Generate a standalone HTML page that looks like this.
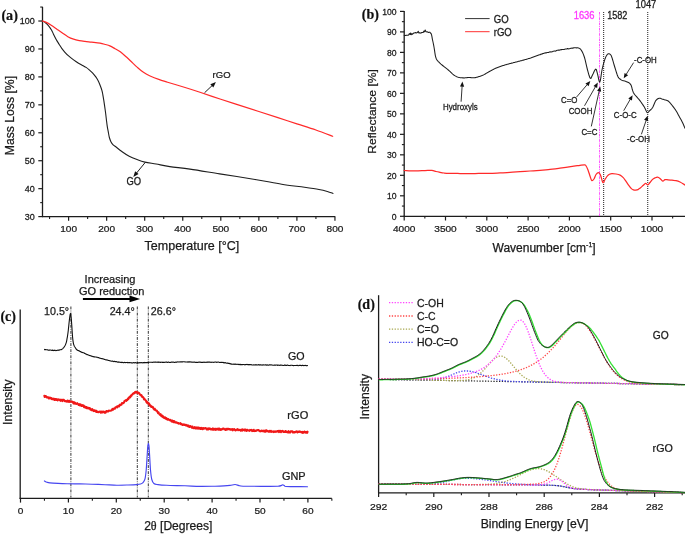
<!DOCTYPE html>
<html><head><meta charset="utf-8"><style>
html,body{margin:0;padding:0;background:#fff;width:685px;height:535px;overflow:hidden}
svg{display:block;filter:blur(0.3px)}
text{font-family:"Liberation Sans",sans-serif}
</style></head><body>
<svg width="685" height="535" viewBox="0 0 685 535">
<rect width="685" height="535" fill="#fff"/>
<line x1="42.5" y1="6.8" x2="42.5" y2="217.1" stroke="#1c1c1c" stroke-width="1.3" />
<line x1="41.9" y1="216.6" x2="335.2" y2="216.6" stroke="#1c1c1c" stroke-width="1.3" />
<line x1="38.3" y1="216.6" x2="42.5" y2="216.6" stroke="#1c1c1c" stroke-width="1.2" />
<text x="0" y="0" transform="translate(34.8 219.8) scale(1 1.05)" text-anchor="end" fill="#1a1a1a" stroke="#1a1a1a" stroke-width="0.25" style="font-family:'Liberation Sans';font-size:9px;font-weight:normal">30</text>
<line x1="38.3" y1="188.66" x2="42.5" y2="188.66" stroke="#1c1c1c" stroke-width="1.2" />
<text x="0" y="0" transform="translate(34.8 191.86) scale(1 1.05)" text-anchor="end" fill="#1a1a1a" stroke="#1a1a1a" stroke-width="0.25" style="font-family:'Liberation Sans';font-size:9px;font-weight:normal">40</text>
<line x1="38.3" y1="160.72" x2="42.5" y2="160.72" stroke="#1c1c1c" stroke-width="1.2" />
<text x="0" y="0" transform="translate(34.8 163.92) scale(1 1.05)" text-anchor="end" fill="#1a1a1a" stroke="#1a1a1a" stroke-width="0.25" style="font-family:'Liberation Sans';font-size:9px;font-weight:normal">50</text>
<line x1="38.3" y1="132.78" x2="42.5" y2="132.78" stroke="#1c1c1c" stroke-width="1.2" />
<text x="0" y="0" transform="translate(34.8 135.98) scale(1 1.05)" text-anchor="end" fill="#1a1a1a" stroke="#1a1a1a" stroke-width="0.25" style="font-family:'Liberation Sans';font-size:9px;font-weight:normal">60</text>
<line x1="38.3" y1="104.84" x2="42.5" y2="104.84" stroke="#1c1c1c" stroke-width="1.2" />
<text x="0" y="0" transform="translate(34.8 108.04) scale(1 1.05)" text-anchor="end" fill="#1a1a1a" stroke="#1a1a1a" stroke-width="0.25" style="font-family:'Liberation Sans';font-size:9px;font-weight:normal">70</text>
<line x1="38.3" y1="76.9" x2="42.5" y2="76.9" stroke="#1c1c1c" stroke-width="1.2" />
<text x="0" y="0" transform="translate(34.8 80.1) scale(1 1.05)" text-anchor="end" fill="#1a1a1a" stroke="#1a1a1a" stroke-width="0.25" style="font-family:'Liberation Sans';font-size:9px;font-weight:normal">80</text>
<line x1="38.3" y1="48.96" x2="42.5" y2="48.96" stroke="#1c1c1c" stroke-width="1.2" />
<text x="0" y="0" transform="translate(34.8 52.16) scale(1 1.05)" text-anchor="end" fill="#1a1a1a" stroke="#1a1a1a" stroke-width="0.25" style="font-family:'Liberation Sans';font-size:9px;font-weight:normal">90</text>
<line x1="38.3" y1="21.02" x2="42.5" y2="21.02" stroke="#1c1c1c" stroke-width="1.2" />
<text x="0" y="0" transform="translate(34.8 24.22) scale(1 1.05)" text-anchor="end" fill="#1a1a1a" stroke="#1a1a1a" stroke-width="0.25" style="font-family:'Liberation Sans';font-size:9px;font-weight:normal">100</text>
<line x1="40.2" y1="202.63" x2="42.5" y2="202.63" stroke="#1c1c1c" stroke-width="1.1" />
<line x1="40.2" y1="174.69" x2="42.5" y2="174.69" stroke="#1c1c1c" stroke-width="1.1" />
<line x1="40.2" y1="146.75" x2="42.5" y2="146.75" stroke="#1c1c1c" stroke-width="1.1" />
<line x1="40.2" y1="118.81" x2="42.5" y2="118.81" stroke="#1c1c1c" stroke-width="1.1" />
<line x1="40.2" y1="90.87" x2="42.5" y2="90.87" stroke="#1c1c1c" stroke-width="1.1" />
<line x1="40.2" y1="62.93" x2="42.5" y2="62.93" stroke="#1c1c1c" stroke-width="1.1" />
<line x1="40.2" y1="34.99" x2="42.5" y2="34.99" stroke="#1c1c1c" stroke-width="1.1" />
<line x1="40.2" y1="7.05" x2="42.5" y2="7.05" stroke="#1c1c1c" stroke-width="1.1" />
<line x1="68.6" y1="216.6" x2="68.6" y2="220.8" stroke="#1c1c1c" stroke-width="1.2" />
<text x="0" y="0" transform="translate(68.6 232) scale(1 0.97)" text-anchor="middle" fill="#1a1a1a" stroke="#1a1a1a" stroke-width="0.25" style="font-family:'Liberation Sans';font-size:10.1px;font-weight:normal">100</text>
<line x1="106.65" y1="216.6" x2="106.65" y2="220.8" stroke="#1c1c1c" stroke-width="1.2" />
<text x="0" y="0" transform="translate(106.65 232) scale(1 0.97)" text-anchor="middle" fill="#1a1a1a" stroke="#1a1a1a" stroke-width="0.25" style="font-family:'Liberation Sans';font-size:10.1px;font-weight:normal">200</text>
<line x1="144.7" y1="216.6" x2="144.7" y2="220.8" stroke="#1c1c1c" stroke-width="1.2" />
<text x="0" y="0" transform="translate(144.7 232) scale(1 0.97)" text-anchor="middle" fill="#1a1a1a" stroke="#1a1a1a" stroke-width="0.25" style="font-family:'Liberation Sans';font-size:10.1px;font-weight:normal">300</text>
<line x1="182.75" y1="216.6" x2="182.75" y2="220.8" stroke="#1c1c1c" stroke-width="1.2" />
<text x="0" y="0" transform="translate(182.75 232) scale(1 0.97)" text-anchor="middle" fill="#1a1a1a" stroke="#1a1a1a" stroke-width="0.25" style="font-family:'Liberation Sans';font-size:10.1px;font-weight:normal">400</text>
<line x1="220.8" y1="216.6" x2="220.8" y2="220.8" stroke="#1c1c1c" stroke-width="1.2" />
<text x="0" y="0" transform="translate(220.8 232) scale(1 0.97)" text-anchor="middle" fill="#1a1a1a" stroke="#1a1a1a" stroke-width="0.25" style="font-family:'Liberation Sans';font-size:10.1px;font-weight:normal">500</text>
<line x1="258.85" y1="216.6" x2="258.85" y2="220.8" stroke="#1c1c1c" stroke-width="1.2" />
<text x="0" y="0" transform="translate(258.85 232) scale(1 0.97)" text-anchor="middle" fill="#1a1a1a" stroke="#1a1a1a" stroke-width="0.25" style="font-family:'Liberation Sans';font-size:10.1px;font-weight:normal">600</text>
<line x1="296.9" y1="216.6" x2="296.9" y2="220.8" stroke="#1c1c1c" stroke-width="1.2" />
<text x="0" y="0" transform="translate(296.9 232) scale(1 0.97)" text-anchor="middle" fill="#1a1a1a" stroke="#1a1a1a" stroke-width="0.25" style="font-family:'Liberation Sans';font-size:10.1px;font-weight:normal">700</text>
<line x1="334.95" y1="216.6" x2="334.95" y2="220.8" stroke="#1c1c1c" stroke-width="1.2" />
<text x="0" y="0" transform="translate(334.95 232) scale(1 0.97)" text-anchor="middle" fill="#1a1a1a" stroke="#1a1a1a" stroke-width="0.25" style="font-family:'Liberation Sans';font-size:10.1px;font-weight:normal">800</text>
<line x1="49.57" y1="216.6" x2="49.57" y2="218.9" stroke="#1c1c1c" stroke-width="1.1" />
<line x1="87.62" y1="216.6" x2="87.62" y2="218.9" stroke="#1c1c1c" stroke-width="1.1" />
<line x1="125.67" y1="216.6" x2="125.67" y2="218.9" stroke="#1c1c1c" stroke-width="1.1" />
<line x1="163.72" y1="216.6" x2="163.72" y2="218.9" stroke="#1c1c1c" stroke-width="1.1" />
<line x1="201.78" y1="216.6" x2="201.78" y2="218.9" stroke="#1c1c1c" stroke-width="1.1" />
<line x1="239.82" y1="216.6" x2="239.82" y2="218.9" stroke="#1c1c1c" stroke-width="1.1" />
<line x1="277.88" y1="216.6" x2="277.88" y2="218.9" stroke="#1c1c1c" stroke-width="1.1" />
<line x1="315.93" y1="216.6" x2="315.93" y2="218.9" stroke="#1c1c1c" stroke-width="1.1" />
<text x="191.9" y="250.4" text-anchor="middle" fill="#1a1a1a" stroke="#1a1a1a" stroke-width="0.25" style="font-family:'Liberation Sans';font-size:12.5px;font-weight:normal" >Temperature [°C]</text>
<text x="13.6" y="115.6" text-anchor="middle" fill="#1a1a1a" stroke="#1a1a1a" stroke-width="0.25" style="font-family:'Liberation Sans';font-size:12.2px;font-weight:normal" transform="rotate(-90 13.6 115.6)">Mass Loss [%]</text>
<text x="1.4" y="19.8" text-anchor="start" fill="#111" stroke="#111" stroke-width="0.2" style="font-family:'Liberation Serif';font-size:14.2px;font-weight:bold" >(a)</text>
<path d="M42.35,21.02C42.92,21.35 44.66,22.09 45.77,22.98C46.88,23.86 48.05,25.16 49,26.33C49.96,27.49 50.73,28.66 51.48,29.96C52.23,31.26 52.73,32.62 53.49,34.15C54.26,35.69 55.11,37.5 56.04,39.18C56.98,40.86 58.14,42.67 59.09,44.21C60.04,45.75 60.81,47.1 61.75,48.4C62.69,49.71 63.58,50.78 64.72,52.03C65.86,53.29 67.12,54.64 68.6,55.94C70.08,57.25 72,58.69 73.58,59.86C75.17,61.02 76.61,62 78.11,62.93C79.62,63.86 81.27,64.7 82.6,65.44C83.93,66.19 84.99,66.66 86.1,67.4C87.22,68.15 88.41,69.17 89.3,69.91C90.19,70.66 90.68,71.13 91.43,71.87C92.18,72.62 93.03,73.5 93.79,74.39C94.55,75.27 95.31,76.2 96,77.18C96.68,78.16 97.26,79.04 97.9,80.25C98.53,81.46 99.14,82.77 99.8,84.44C100.47,86.12 101.39,88.59 101.89,90.31C102.4,92.03 102.53,93.11 102.84,94.78C103.16,96.46 103.48,98.37 103.8,100.37C104.11,102.37 104.43,104.56 104.75,106.8C105.06,109.03 105.41,111.55 105.7,113.78C105.98,116.02 106.21,118.16 106.46,120.21C106.71,122.26 106.92,124.12 107.22,126.07C107.53,128.03 107.94,130.08 108.29,131.94C108.63,133.8 108.88,135.62 109.31,137.25C109.75,138.88 110.28,140.46 110.91,141.72C111.55,142.98 112.26,143.91 113.12,144.79C113.98,145.68 114.63,145.91 116.09,147.03C117.54,148.15 119.68,149.96 121.87,151.5C124.06,153.04 126.68,154.9 129.21,156.25C131.75,157.6 134.48,158.62 137.09,159.6C139.7,160.58 141.72,161.37 144.89,162.12C148.06,162.86 151.96,163.33 156.12,164.07C160.27,164.82 164.17,165.75 169.81,166.59C175.46,167.43 181.67,167.89 189.98,169.1C198.29,170.31 208.56,172.08 219.66,173.85C230.76,175.62 246.23,178 256.57,179.72C266.9,181.44 273.69,182.93 281.68,184.19C289.67,185.45 298.3,186.38 304.51,187.26C310.72,188.15 315.16,188.8 318.97,189.5C322.77,190.2 324.99,190.8 327.34,191.45C329.69,192.11 332.1,193.08 333.05,193.41" fill="none" stroke="#1e1e1e" stroke-width="1.1" stroke-linejoin="round" stroke-linecap="round" />
<path d="M42.35,21.02C42.92,21.21 44.29,21.44 45.77,22.14C47.25,22.84 49.31,24 51.21,25.21C53.11,26.42 55.32,28.1 57.18,29.4C59.05,30.71 60.62,31.82 62.4,33.03C64.17,34.24 65.97,35.64 67.84,36.67C69.7,37.69 71.68,38.53 73.58,39.18C75.49,39.83 77.37,40.21 79.25,40.58C81.14,40.95 82.86,41.16 84.89,41.42C86.91,41.67 88.91,41.84 91.43,42.11C93.95,42.39 97.64,42.7 99.99,43.09C102.34,43.49 103.87,44.02 105.51,44.49C107.14,44.96 108.22,45.19 109.81,45.89C111.39,46.59 113.27,47.7 115.02,48.68C116.77,49.66 118.41,50.36 120.31,51.75C122.21,53.15 124.39,55.2 126.44,57.06C128.48,58.93 130.82,61.25 132.6,62.93C134.38,64.61 135.64,65.82 137.09,67.12C138.54,68.42 139.85,69.64 141.31,70.75C142.77,71.87 144.38,72.94 145.84,73.83C147.31,74.71 147.95,75.13 150.1,76.06C152.26,76.99 155.86,78.39 158.78,79.41C161.7,80.44 163.22,80.86 167.61,82.21C171.99,83.56 179.71,85.84 185.11,87.52C190.51,89.19 194.04,90.31 199.99,92.27C205.94,94.22 214.16,97.06 220.8,99.25C227.44,101.44 233.48,103.35 239.82,105.4C246.17,107.45 252.51,109.5 258.85,111.55C265.19,113.59 271.53,115.64 277.88,117.69C284.22,119.74 290.56,121.79 296.9,123.84C303.24,125.89 309.96,127.91 315.93,129.99C321.89,132.06 329.88,135.22 332.67,136.27" fill="none" stroke="#ff2a2a" stroke-width="1.2" stroke-linejoin="round" stroke-linecap="round" />
<line x1="204.5" y1="92.8" x2="212.2" y2="85.51" stroke="#111" stroke-width="0.95" />
<path d="M215.9,82 L213.35,87.45 L210.32,84.25 Z" fill="#111"/>
<text x="0" y="0" transform="translate(212.6 78.3) scale(1 0.95)" text-anchor="start" fill="#1a1a1a" stroke="#1a1a1a" stroke-width="0.25" style="font-family:'Liberation Sans';font-size:9.5px;font-weight:normal">rGO</text>
<line x1="145.1" y1="162.6" x2="136.53" y2="173.06" stroke="#111" stroke-width="0.95" />
<path d="M133.3,177 L135.15,171.27 L138.55,174.06 Z" fill="#111"/>
<text x="0" y="0" transform="translate(126.4 185.3) scale(1 1.08)" text-anchor="start" fill="#1a1a1a" stroke="#1a1a1a" stroke-width="0.25" style="font-family:'Liberation Sans';font-size:9.4px;font-weight:normal">GO</text>
<line x1="404.2" y1="10.9" x2="404.2" y2="216.8" stroke="#1c1c1c" stroke-width="1.3" />
<line x1="403.6" y1="216.3" x2="685" y2="216.3" stroke="#1c1c1c" stroke-width="1.3" />
<line x1="400" y1="216.3" x2="404.2" y2="216.3" stroke="#1c1c1c" stroke-width="1.2" />
<text x="0" y="0" transform="translate(396.6 219.6) scale(1 1.12)" text-anchor="end" fill="#1a1a1a" stroke="#1a1a1a" stroke-width="0.25" style="font-family:'Liberation Sans';font-size:8.6px;font-weight:normal">0</text>
<line x1="400" y1="195.81" x2="404.2" y2="195.81" stroke="#1c1c1c" stroke-width="1.2" />
<text x="0" y="0" transform="translate(396.6 199.11) scale(1 1.12)" text-anchor="end" fill="#1a1a1a" stroke="#1a1a1a" stroke-width="0.25" style="font-family:'Liberation Sans';font-size:8.6px;font-weight:normal">10</text>
<line x1="400" y1="175.32" x2="404.2" y2="175.32" stroke="#1c1c1c" stroke-width="1.2" />
<text x="0" y="0" transform="translate(396.6 178.62) scale(1 1.12)" text-anchor="end" fill="#1a1a1a" stroke="#1a1a1a" stroke-width="0.25" style="font-family:'Liberation Sans';font-size:8.6px;font-weight:normal">20</text>
<line x1="400" y1="154.83" x2="404.2" y2="154.83" stroke="#1c1c1c" stroke-width="1.2" />
<text x="0" y="0" transform="translate(396.6 158.13) scale(1 1.12)" text-anchor="end" fill="#1a1a1a" stroke="#1a1a1a" stroke-width="0.25" style="font-family:'Liberation Sans';font-size:8.6px;font-weight:normal">30</text>
<line x1="400" y1="134.34" x2="404.2" y2="134.34" stroke="#1c1c1c" stroke-width="1.2" />
<text x="0" y="0" transform="translate(396.6 137.64) scale(1 1.12)" text-anchor="end" fill="#1a1a1a" stroke="#1a1a1a" stroke-width="0.25" style="font-family:'Liberation Sans';font-size:8.6px;font-weight:normal">40</text>
<line x1="400" y1="113.85" x2="404.2" y2="113.85" stroke="#1c1c1c" stroke-width="1.2" />
<text x="0" y="0" transform="translate(396.6 117.15) scale(1 1.12)" text-anchor="end" fill="#1a1a1a" stroke="#1a1a1a" stroke-width="0.25" style="font-family:'Liberation Sans';font-size:8.6px;font-weight:normal">50</text>
<line x1="400" y1="93.36" x2="404.2" y2="93.36" stroke="#1c1c1c" stroke-width="1.2" />
<text x="0" y="0" transform="translate(396.6 96.66) scale(1 1.12)" text-anchor="end" fill="#1a1a1a" stroke="#1a1a1a" stroke-width="0.25" style="font-family:'Liberation Sans';font-size:8.6px;font-weight:normal">60</text>
<line x1="400" y1="72.87" x2="404.2" y2="72.87" stroke="#1c1c1c" stroke-width="1.2" />
<text x="0" y="0" transform="translate(396.6 76.17) scale(1 1.12)" text-anchor="end" fill="#1a1a1a" stroke="#1a1a1a" stroke-width="0.25" style="font-family:'Liberation Sans';font-size:8.6px;font-weight:normal">70</text>
<line x1="400" y1="52.38" x2="404.2" y2="52.38" stroke="#1c1c1c" stroke-width="1.2" />
<text x="0" y="0" transform="translate(396.6 55.68) scale(1 1.12)" text-anchor="end" fill="#1a1a1a" stroke="#1a1a1a" stroke-width="0.25" style="font-family:'Liberation Sans';font-size:8.6px;font-weight:normal">80</text>
<line x1="400" y1="31.89" x2="404.2" y2="31.89" stroke="#1c1c1c" stroke-width="1.2" />
<text x="0" y="0" transform="translate(396.6 35.19) scale(1 1.12)" text-anchor="end" fill="#1a1a1a" stroke="#1a1a1a" stroke-width="0.25" style="font-family:'Liberation Sans';font-size:8.6px;font-weight:normal">90</text>
<line x1="400" y1="11.4" x2="404.2" y2="11.4" stroke="#1c1c1c" stroke-width="1.2" />
<text x="0" y="0" transform="translate(396.6 14.7) scale(1 1.12)" text-anchor="end" fill="#1a1a1a" stroke="#1a1a1a" stroke-width="0.25" style="font-family:'Liberation Sans';font-size:8.6px;font-weight:normal">100</text>
<line x1="401.9" y1="206.06" x2="404.2" y2="206.06" stroke="#1c1c1c" stroke-width="1.1" />
<line x1="401.9" y1="185.56" x2="404.2" y2="185.56" stroke="#1c1c1c" stroke-width="1.1" />
<line x1="401.9" y1="165.08" x2="404.2" y2="165.08" stroke="#1c1c1c" stroke-width="1.1" />
<line x1="401.9" y1="144.59" x2="404.2" y2="144.59" stroke="#1c1c1c" stroke-width="1.1" />
<line x1="401.9" y1="124.1" x2="404.2" y2="124.1" stroke="#1c1c1c" stroke-width="1.1" />
<line x1="401.9" y1="103.61" x2="404.2" y2="103.61" stroke="#1c1c1c" stroke-width="1.1" />
<line x1="401.9" y1="83.12" x2="404.2" y2="83.12" stroke="#1c1c1c" stroke-width="1.1" />
<line x1="401.9" y1="62.63" x2="404.2" y2="62.63" stroke="#1c1c1c" stroke-width="1.1" />
<line x1="401.9" y1="42.14" x2="404.2" y2="42.14" stroke="#1c1c1c" stroke-width="1.1" />
<line x1="401.9" y1="21.65" x2="404.2" y2="21.65" stroke="#1c1c1c" stroke-width="1.1" />
<line x1="404.2" y1="216.3" x2="404.2" y2="220.5" stroke="#1c1c1c" stroke-width="1.2" />
<text x="0" y="0" transform="translate(404.2 231.5) scale(1 0.97)" text-anchor="middle" fill="#1a1a1a" stroke="#1a1a1a" stroke-width="0.25" style="font-family:'Liberation Sans';font-size:10.1px;font-weight:normal">4000</text>
<line x1="445.5" y1="216.3" x2="445.5" y2="220.5" stroke="#1c1c1c" stroke-width="1.2" />
<text x="0" y="0" transform="translate(445.5 231.5) scale(1 0.97)" text-anchor="middle" fill="#1a1a1a" stroke="#1a1a1a" stroke-width="0.25" style="font-family:'Liberation Sans';font-size:10.1px;font-weight:normal">3500</text>
<line x1="486.8" y1="216.3" x2="486.8" y2="220.5" stroke="#1c1c1c" stroke-width="1.2" />
<text x="0" y="0" transform="translate(486.8 231.5) scale(1 0.97)" text-anchor="middle" fill="#1a1a1a" stroke="#1a1a1a" stroke-width="0.25" style="font-family:'Liberation Sans';font-size:10.1px;font-weight:normal">3000</text>
<line x1="528.1" y1="216.3" x2="528.1" y2="220.5" stroke="#1c1c1c" stroke-width="1.2" />
<text x="0" y="0" transform="translate(528.1 231.5) scale(1 0.97)" text-anchor="middle" fill="#1a1a1a" stroke="#1a1a1a" stroke-width="0.25" style="font-family:'Liberation Sans';font-size:10.1px;font-weight:normal">2500</text>
<line x1="569.4" y1="216.3" x2="569.4" y2="220.5" stroke="#1c1c1c" stroke-width="1.2" />
<text x="0" y="0" transform="translate(569.4 231.5) scale(1 0.97)" text-anchor="middle" fill="#1a1a1a" stroke="#1a1a1a" stroke-width="0.25" style="font-family:'Liberation Sans';font-size:10.1px;font-weight:normal">2000</text>
<line x1="610.7" y1="216.3" x2="610.7" y2="220.5" stroke="#1c1c1c" stroke-width="1.2" />
<text x="0" y="0" transform="translate(610.7 231.5) scale(1 0.97)" text-anchor="middle" fill="#1a1a1a" stroke="#1a1a1a" stroke-width="0.25" style="font-family:'Liberation Sans';font-size:10.1px;font-weight:normal">1500</text>
<line x1="652" y1="216.3" x2="652" y2="220.5" stroke="#1c1c1c" stroke-width="1.2" />
<text x="0" y="0" transform="translate(652 231.5) scale(1 0.97)" text-anchor="middle" fill="#1a1a1a" stroke="#1a1a1a" stroke-width="0.25" style="font-family:'Liberation Sans';font-size:10.1px;font-weight:normal">1000</text>
<line x1="424.85" y1="216.3" x2="424.85" y2="218.6" stroke="#1c1c1c" stroke-width="1.1" />
<line x1="466.15" y1="216.3" x2="466.15" y2="218.6" stroke="#1c1c1c" stroke-width="1.1" />
<line x1="507.45" y1="216.3" x2="507.45" y2="218.6" stroke="#1c1c1c" stroke-width="1.1" />
<line x1="548.75" y1="216.3" x2="548.75" y2="218.6" stroke="#1c1c1c" stroke-width="1.1" />
<line x1="590.05" y1="216.3" x2="590.05" y2="218.6" stroke="#1c1c1c" stroke-width="1.1" />
<line x1="631.35" y1="216.3" x2="631.35" y2="218.6" stroke="#1c1c1c" stroke-width="1.1" />
<line x1="672.65" y1="216.3" x2="672.65" y2="218.6" stroke="#1c1c1c" stroke-width="1.1" />
<text x="492.5" y="251.7" font-size="12.0" fill="#1a1a1a" stroke="#1a1a1a" stroke-width="0.25" font-family="Liberation Sans">Wavenumber [cm<tspan font-size="7" dy="-5.2">-1</tspan><tspan dy="5.2">]</tspan></text>
<text x="0" y="0" transform="translate(376.3 111.4) rotate(-90) scale(1 0.92)" text-anchor="middle" fill="#1a1a1a" stroke="#1a1a1a" stroke-width="0.25" style="font-family:'Liberation Sans';font-size:12.1px">Reflectance [%]</text>
<text x="361.8" y="18.6" text-anchor="start" fill="#111" stroke="#111" stroke-width="0.2" style="font-family:'Liberation Serif';font-size:14px;font-weight:bold" >(b)</text>
<line x1="465.1" y1="18.6" x2="489.6" y2="18.6" stroke="#333" stroke-width="1" />
<text x="0" y="0" transform="translate(493.7 22.8) scale(1 1.08)" text-anchor="start" fill="#1a1a1a" stroke="#1a1a1a" stroke-width="0.25" style="font-family:'Liberation Sans';font-size:9.6px;font-weight:normal">GO</text>
<line x1="465.1" y1="31.7" x2="489.6" y2="31.7" stroke="#ff3030" stroke-width="1" />
<text x="0" y="0" transform="translate(493.7 35.7) scale(1 1.08)" text-anchor="start" fill="#1a1a1a" stroke="#1a1a1a" stroke-width="0.25" style="font-family:'Liberation Sans';font-size:9.6px;font-weight:normal">rGO</text>
<line x1="599.5" y1="12" x2="599.5" y2="216.3" stroke="#ff44ff" stroke-width="0.9" stroke-dasharray="2.6,0.9,0.9,0.9"/>
<line x1="603.6" y1="12" x2="603.6" y2="216.3" stroke="#444" stroke-width="1.2" stroke-dasharray="1,1"/>
<line x1="647.7" y1="12" x2="647.7" y2="216.3" stroke="#444" stroke-width="1.2" stroke-dasharray="1,1"/>
<text x="0" y="0" transform="translate(584.1 18.7) scale(1 1.08)" text-anchor="middle" fill="#ff33ff" stroke="#ff33ff" stroke-width="0.25" style="font-family:'Liberation Sans';font-size:9.4px;font-weight:normal">1636</text>
<text x="0" y="0" transform="translate(617.3 18.7) scale(1 1.1)" text-anchor="middle" fill="#1a1a1a" stroke="#1a1a1a" stroke-width="0.25" style="font-family:'Liberation Sans';font-size:9.1px;font-weight:normal">1582</text>
<text x="0" y="0" transform="translate(645.9 7.9) scale(1 1.08)" text-anchor="middle" fill="#1a1a1a" stroke="#1a1a1a" stroke-width="0.25" style="font-family:'Liberation Sans';font-size:9.4px;font-weight:normal">1047</text>
<path d="M404.2,35.5 L404.63,35.47 L405.25,35.42 L405.97,35.37 L406.72,35.31 L407.42,35.25 L408,35.2 L408.64,34.97 L409.13,33.92 L409.59,33.59 L410.1,34.44 L410.66,33.03 L411.22,34.73 L411.85,33.82 L412.6,34.25 L413.2,33.49 L413.87,32.9 L414.59,32.9 L415.34,32.51 L416.08,33.03 L416.8,32.68 L417.5,32.46 L418.2,31.21 L418.9,32.95 L419.6,32.69 L420.3,32.89 L421,33.19 L421.72,32.48 L422.46,32.48 L423.2,32.37 L423.92,31.08 L424.59,31.81 L425.2,29.92 L425.96,31.64 L426.6,31.87 L427.19,31.89 L427.8,31.98 L428.49,32.44 L429.19,32.3 L429.86,32.15 L430.4,33.05 L431.06,33.52 L431.5,34.6 L431.94,36.71 L432.4,39.3 L433,42.01 L433.6,44.8 L434.07,47.52 L434.5,50.2 L434.9,52.89 L435.3,55.3 L435.73,57.1 L436.2,58.5 L436.61,59.45 L437.3,60.4 L437.77,60.95 L438.32,61.56 L438.96,62.21 L439.65,62.9 L440.4,63.6 L440.98,64.12 L441.62,64.66 L442.3,65.22 L442.99,65.78 L443.69,66.34 L444.36,66.88 L445,67.4 L445.69,67.95 L446.34,68.46 L446.97,68.95 L447.61,69.45 L448.28,69.99 L449,70.6 L449.59,71.12 L450.2,71.71 L450.84,72.33 L451.49,72.96 L452.15,73.59 L452.81,74.19 L453.46,74.73 L454.1,75.2 L454.81,75.66 L455.51,76.05 L456.21,76.4 L456.9,76.7 L457.6,76.97 L458.3,77.2 L459,77.4 L459.62,77.55 L460.24,77.67 L460.87,77.75 L461.49,77.81 L462.12,77.85 L462.75,77.88 L463.37,77.89 L464,77.9 L464.62,77.89 L465.25,77.85 L465.88,77.79 L466.5,77.71 L467.12,77.64 L467.75,77.57 L468.38,77.52 L469,77.5 L469.62,77.51 L470.25,77.56 L470.88,77.63 L471.5,77.7 L472.12,77.77 L472.75,77.81 L473.38,77.83 L474,77.8 L474.62,77.73 L475.25,77.62 L475.88,77.5 L476.5,77.34 L477.12,77.17 L477.75,76.99 L478.38,76.8 L479,76.6 L479.62,76.4 L480.23,76.19 L480.83,75.97 L481.44,75.74 L482.05,75.49 L482.68,75.22 L483.33,74.92 L484,74.6 L484.62,74.28 L485.26,73.93 L485.91,73.56 L486.58,73.17 L487.26,72.77 L487.94,72.37 L488.63,71.97 L489.31,71.58 L490,71.2 L490.62,70.87 L491.23,70.53 L491.86,70.2 L492.48,69.87 L493.11,69.54 L493.74,69.21 L494.37,68.89 L495.01,68.59 L495.65,68.29 L496.3,68 L496.95,67.73 L497.61,67.46 L498.27,67.21 L498.94,66.96 L499.61,66.72 L500.28,66.49 L500.96,66.27 L501.63,66.04 L502.32,65.82 L503,65.6 L503.61,65.41 L504.21,65.22 L504.81,65.04 L505.4,64.87 L505.99,64.7 L506.6,64.53 L507.22,64.35 L507.87,64.18 L508.54,63.99 L509.25,63.8 L510,63.6 L510.58,63.44 L511.18,63.28 L511.81,63.12 L512.45,62.95 L513.11,62.79 L513.78,62.61 L514.47,62.44 L515.16,62.26 L515.86,62.08 L516.56,61.9 L517.26,61.72 L517.95,61.54 L518.64,61.36 L519.33,61.18 L520,61 L520.67,60.82 L521.33,60.64 L521.99,60.47 L522.65,60.29 L523.31,60.12 L523.97,59.94 L524.63,59.76 L525.29,59.58 L525.95,59.4 L526.61,59.21 L527.28,59.02 L527.96,58.83 L528.63,58.62 L529.31,58.42 L530,58.2 L530.65,57.99 L531.31,57.76 L531.98,57.53 L532.66,57.29 L533.34,57.04 L534.02,56.79 L534.71,56.53 L535.39,56.28 L536.08,56.02 L536.76,55.77 L537.44,55.52 L538.11,55.28 L538.77,55.04 L539.42,54.81 L540.07,54.79 L540.7,54.27 L541.41,54.12 L542.1,54.08 L542.77,53.5 L543.44,53.58 L544.1,53.22 L544.75,53.02 L545.39,52.82 L546.04,53.09 L546.68,52.55 L547.33,52.46 L547.99,52.4 L548.65,52.53 L549.32,51.9 L550,51.97 L550.64,51.88 L551.29,51.94 L551.93,51.76 L552.58,51.65 L553.23,51.16 L553.89,51.11 L554.54,50.94 L555.21,51.12 L555.87,51.03 L556.54,50.42 L557.22,50.31 L557.91,50.21 L558.6,50.09 L559.29,50.11 L560,50.05 L560.64,49.75 L561.29,49.48 L561.97,49.61 L562.65,49.47 L563.35,49.47 L564.05,49.59 L564.76,49.31 L565.47,49.1 L566.17,49.05 L566.87,48.98 L567.55,48.5 L568.23,48.91 L568.89,48.75 L569.53,48.73 L570.15,48.6 L570.74,48.29 L571.3,48.24 L572.13,47.98 L572.93,48.23 L573.7,47.83 L574.43,47.78 L575.14,47.83 L575.8,47.78 L576.44,47.89 L577.03,47.74 L577.59,47.74 L578.12,47.9 L578.6,47.96 L579.46,48.37 L580.07,48.76 L580.54,49.2 L580.98,49.79 L581.5,50.6 L582.1,51.61 L582.7,52.79 L583.3,54.16 L583.9,55.72 L584.5,57.5 L585.09,59.62 L585.67,62.09 L586.24,64.69 L586.82,67.22 L587.4,69.5 L587.99,71.66 L588.59,73.83 L589.19,75.8 L589.76,77.37 L590.3,78.3 L590.88,78.39 L591.38,77.57 L591.9,76.29 L592.5,75 L593.1,73.82 L593.78,72.32 L594.47,70.82 L595.13,69.64 L595.7,69.1 L596.39,69.74 L596.91,71.57 L597.5,73.8 L598.04,76.13 L598.62,79.09 L599.21,81.5 L599.8,82.2 L600.36,80.46 L600.91,77.05 L601.48,73.04 L602.1,69.5 L602.67,67.11 L603.29,64.73 L603.92,62.45 L604.54,60.41 L605.1,58.7 L605.72,57.11 L606.28,55.98 L606.8,55.16 L607.3,54.5 L607.9,53.9 L608.44,53.69 L609,53.7 L609.61,53.93 L610.24,54.39 L610.8,55 L611.33,55.82 L612,57.7 L612.47,59.22 L613.04,61.16 L613.66,63.31 L614.29,65.49 L614.9,67.5 L615.49,69.42 L616.09,71.38 L616.69,73.27 L617.26,74.95 L617.8,76.3 L618.39,77.43 L618.92,78.11 L619.45,78.55 L620,79 L620.62,79.49 L621.26,79.89 L621.9,80.23 L622.5,80.5 L623.18,80.69 L623.8,80.76 L624.5,80.9 L625.14,81.12 L625.83,81.4 L626.54,81.7 L627.2,82 L627.82,82.27 L628.41,82.53 L628.98,82.82 L629.5,83.2 L630.14,83.84 L630.71,84.6 L631.2,85.5 L631.74,87.19 L632.2,89 L632.68,90.68 L633.2,92.2 L633.81,93.33 L634.6,94.4 L635.12,95.04 L635.71,95.73 L636.34,96.44 L637,97.2 L637.56,97.84 L638.15,98.52 L638.75,99.21 L639.34,99.91 L639.9,100.6 L640.54,101.44 L641.13,102.28 L641.71,103.13 L642.3,104 L642.93,104.92 L643.57,105.89 L644.18,106.83 L644.7,107.7 L645.42,109.2 L646,110.5 L646.61,111.75 L647.2,112.6 L647.76,112.61 L648.3,112.2 L648.82,111.61 L649.4,110.9 L649.9,110.46 L650.45,110.01 L651,109.5 L651.53,108.93 L652.07,108.3 L652.6,107.5 L653.13,106.44 L653.67,105.21 L654.2,104 L654.72,102.8 L655.24,101.61 L655.8,100.6 L656.44,99.84 L657.12,99.25 L657.8,98.8 L658.46,98.46 L659.12,98.25 L659.8,98.2 L660.33,98.3 L660.87,98.51 L661.42,98.77 L662,99 L662.57,99.18 L663.14,99.36 L663.76,99.55 L664.5,99.8 L665.07,99.96 L665.69,100.1 L666.36,100.25 L667.05,100.47 L667.77,100.8 L668.5,101.3 L669.16,101.89 L669.86,102.63 L670.59,103.47 L671.31,104.35 L672.02,105.25 L672.69,106.12 L673.3,106.9 L674.04,107.87 L674.7,108.76 L675.3,109.63 L675.89,110.53 L676.5,111.5 L677.13,112.58 L677.76,113.72 L678.38,114.9 L678.99,116.07 L679.6,117.2 L680.2,118.28 L680.79,119.32 L681.38,120.36 L681.95,121.41 L682.5,122.5 L683.21,124.05 L683.93,125.73 L684.56,127.25 L685,128.3" fill="none" stroke="#1e1e1e" stroke-width="1.05" stroke-linejoin="round" stroke-linecap="round" />
<path d="M404.2,170.5C406,170.57 411.53,170.88 415,170.9C418.47,170.92 422.2,170.68 425,170.6C427.8,170.52 429.97,170.25 431.8,170.4C433.63,170.55 434.75,171.2 436,171.5C437.25,171.8 437.97,171.95 439.3,172.2C440.63,172.45 442.35,172.8 444,173C445.65,173.2 446.53,173.32 449.2,173.4C451.87,173.48 455.7,173.48 460,173.5C464.3,173.52 470.17,173.52 475,173.5C479.83,173.48 484.83,173.5 489,173.4C493.17,173.3 496.5,173.07 500,172.9C503.5,172.73 506.67,172.6 510,172.4C513.33,172.2 516.67,171.93 520,171.7C523.33,171.47 526.67,171.23 530,171C533.33,170.77 536.95,170.52 540,170.3C543.05,170.08 544.97,170.05 548.3,169.7C551.63,169.35 555.73,168.78 560,168.2C564.27,167.62 570.57,166.68 573.9,166.2C577.23,165.72 578.23,165.53 580,165.3C581.77,165.07 583.53,164.77 584.5,164.8C585.47,164.83 585.22,164.65 585.8,165.5C586.38,166.35 587.3,168.15 588,169.9C588.7,171.65 589.38,174.25 590,176C590.62,177.75 591.03,179.9 591.7,180.4C592.37,180.9 593.28,179.98 594,179C594.72,178.02 595.25,175.57 596,174.5C596.75,173.43 597.75,172.52 598.5,172.6C599.25,172.68 599.77,173.33 600.5,175C601.23,176.67 602.15,181.85 602.9,182.6C603.65,183.35 604.25,180.62 605,179.5C605.75,178.38 606.65,176.77 607.4,175.9C608.15,175.03 608.75,174.68 609.5,174.3C610.25,173.92 610.82,173.65 611.9,173.6C612.98,173.55 614.63,173.75 616,174C617.37,174.25 618.93,174.53 620.1,175.1C621.27,175.67 622.12,176.52 623,177.4C623.88,178.28 624.57,179.25 625.4,180.4C626.23,181.55 627,182.93 628,184.3C629,185.67 630.48,187.67 631.4,188.6C632.32,189.53 632.77,189.65 633.5,189.9C634.23,190.15 635.05,190.15 635.8,190.1C636.55,190.05 637.25,189.97 638,189.6C638.75,189.23 639.47,188.57 640.3,187.9C641.13,187.23 642.12,186.35 643,185.6C643.88,184.85 644.8,183.52 645.6,183.4C646.4,183.28 647.07,185.05 647.8,184.9C648.53,184.75 649.25,183.38 650,182.5C650.75,181.62 651.47,180.37 652.3,179.6C653.13,178.83 654.13,178.32 655,177.9C655.87,177.48 656.67,177.02 657.5,177.1C658.33,177.18 659.12,177.73 660,178.4C660.88,179.07 661.97,180.9 662.8,181.1C663.63,181.3 664.13,179.82 665,179.6C665.87,179.38 666.83,179.7 668,179.8C669.17,179.9 670.67,180.07 672,180.2C673.33,180.33 674.67,180.3 676,180.6C677.33,180.9 678.5,181.27 680,182C681.5,182.73 684.17,184.5 685,185" fill="none" stroke="#ff2a2a" stroke-width="1.25" stroke-linejoin="round" stroke-linecap="round" />
<line x1="461.1" y1="101.7" x2="462.11" y2="86.09" stroke="#111" stroke-width="0.85" />
<path d="M462.4,81.6 L464.17,86.73 L459.98,86.45 Z" fill="#111"/>
<text x="0" y="0" transform="translate(460.3 110) scale(1 1.07)" text-anchor="middle" fill="#1a1a1a" stroke="#1a1a1a" stroke-width="0.25" style="font-family:'Liberation Sans';font-size:7.9px;font-weight:normal">Hydroxyls</text>
<line x1="576.6" y1="97" x2="587.37" y2="84.42" stroke="#111" stroke-width="0.85" />
<path d="M590.3,81 L588.64,86.16 L585.45,83.43 Z" fill="#111"/>
<text x="0" y="0" transform="translate(569.2 102.6) scale(1 1.07)" text-anchor="middle" fill="#1a1a1a" stroke="#1a1a1a" stroke-width="0.25" style="font-family:'Liberation Sans';font-size:7.9px;font-weight:normal">C=O</text>
<line x1="584.5" y1="105.8" x2="595.56" y2="86.5" stroke="#111" stroke-width="0.85" />
<path d="M597.8,82.6 L597.14,87.98 L593.49,85.89 Z" fill="#111"/>
<text x="0" y="0" transform="translate(580.5 113.6) scale(1 1.07)" text-anchor="middle" fill="#1a1a1a" stroke="#1a1a1a" stroke-width="0.25" style="font-family:'Liberation Sans';font-size:7.9px;font-weight:normal">COOH</text>
<line x1="591.3" y1="126.4" x2="599.22" y2="90.79" stroke="#111" stroke-width="0.85" />
<path d="M600.2,86.4 L601.16,91.74 L597.06,90.82 Z" fill="#111"/>
<text x="0" y="0" transform="translate(589.4 135.2) scale(1 1.07)" text-anchor="middle" fill="#1a1a1a" stroke="#1a1a1a" stroke-width="0.25" style="font-family:'Liberation Sans';font-size:7.9px;font-weight:normal">C=C</text>
<line x1="633.6" y1="62.6" x2="626.1" y2="74.49" stroke="#111" stroke-width="0.85" />
<path d="M623.7,78.3 L624.59,72.95 L628.14,75.19 Z" fill="#111"/>
<text x="0" y="0" transform="translate(645.4 62.6) scale(1 1.07)" text-anchor="middle" fill="#1a1a1a" stroke="#1a1a1a" stroke-width="0.25" style="font-family:'Liberation Sans';font-size:7.9px;font-weight:normal">-C-OH</text>
<line x1="623.7" y1="110.7" x2="630.36" y2="99.1" stroke="#111" stroke-width="0.85" />
<path d="M632.6,95.2 L631.93,100.58 L628.29,98.49 Z" fill="#111"/>
<text x="0" y="0" transform="translate(625.2 117.5) scale(1 1.07)" text-anchor="middle" fill="#1a1a1a" stroke="#1a1a1a" stroke-width="0.25" style="font-family:'Liberation Sans';font-size:7.9px;font-weight:normal">C-O-C</text>
<line x1="641.4" y1="134.3" x2="646.25" y2="120.06" stroke="#111" stroke-width="0.85" />
<path d="M647.7,115.8 L648.08,121.21 L644.1,119.86 Z" fill="#111"/>
<text x="0" y="0" transform="translate(638.5 142.2) scale(1 1.07)" text-anchor="middle" fill="#1a1a1a" stroke="#1a1a1a" stroke-width="0.25" style="font-family:'Liberation Sans';font-size:7.9px;font-weight:normal">-C-OH</text>
<line x1="20.2" y1="309.5" x2="20.2" y2="498.9" stroke="#1c1c1c" stroke-width="1.3" />
<line x1="19.6" y1="498.4" x2="331.8" y2="498.4" stroke="#1c1c1c" stroke-width="1.3" />
<line x1="20.5" y1="498.4" x2="20.5" y2="502.6" stroke="#1c1c1c" stroke-width="1.2" />
<text x="0" y="0" transform="translate(20.5 513.9) scale(1 0.98)" text-anchor="middle" fill="#1a1a1a" stroke="#1a1a1a" stroke-width="0.25" style="font-family:'Liberation Sans';font-size:10.1px;font-weight:normal">0</text>
<line x1="68.4" y1="498.4" x2="68.4" y2="502.6" stroke="#1c1c1c" stroke-width="1.2" />
<text x="0" y="0" transform="translate(68.4 513.9) scale(1 0.98)" text-anchor="middle" fill="#1a1a1a" stroke="#1a1a1a" stroke-width="0.25" style="font-family:'Liberation Sans';font-size:10.1px;font-weight:normal">10</text>
<line x1="116.3" y1="498.4" x2="116.3" y2="502.6" stroke="#1c1c1c" stroke-width="1.2" />
<text x="0" y="0" transform="translate(116.3 513.9) scale(1 0.98)" text-anchor="middle" fill="#1a1a1a" stroke="#1a1a1a" stroke-width="0.25" style="font-family:'Liberation Sans';font-size:10.1px;font-weight:normal">20</text>
<line x1="164.2" y1="498.4" x2="164.2" y2="502.6" stroke="#1c1c1c" stroke-width="1.2" />
<text x="0" y="0" transform="translate(164.2 513.9) scale(1 0.98)" text-anchor="middle" fill="#1a1a1a" stroke="#1a1a1a" stroke-width="0.25" style="font-family:'Liberation Sans';font-size:10.1px;font-weight:normal">30</text>
<line x1="212.1" y1="498.4" x2="212.1" y2="502.6" stroke="#1c1c1c" stroke-width="1.2" />
<text x="0" y="0" transform="translate(212.1 513.9) scale(1 0.98)" text-anchor="middle" fill="#1a1a1a" stroke="#1a1a1a" stroke-width="0.25" style="font-family:'Liberation Sans';font-size:10.1px;font-weight:normal">40</text>
<line x1="260" y1="498.4" x2="260" y2="502.6" stroke="#1c1c1c" stroke-width="1.2" />
<text x="0" y="0" transform="translate(260 513.9) scale(1 0.98)" text-anchor="middle" fill="#1a1a1a" stroke="#1a1a1a" stroke-width="0.25" style="font-family:'Liberation Sans';font-size:10.1px;font-weight:normal">50</text>
<line x1="307.9" y1="498.4" x2="307.9" y2="502.6" stroke="#1c1c1c" stroke-width="1.2" />
<text x="0" y="0" transform="translate(307.9 513.9) scale(1 0.98)" text-anchor="middle" fill="#1a1a1a" stroke="#1a1a1a" stroke-width="0.25" style="font-family:'Liberation Sans';font-size:10.1px;font-weight:normal">60</text>
<line x1="44.45" y1="498.4" x2="44.45" y2="500.7" stroke="#1c1c1c" stroke-width="1.1" />
<line x1="92.35" y1="498.4" x2="92.35" y2="500.7" stroke="#1c1c1c" stroke-width="1.1" />
<line x1="140.25" y1="498.4" x2="140.25" y2="500.7" stroke="#1c1c1c" stroke-width="1.1" />
<line x1="188.15" y1="498.4" x2="188.15" y2="500.7" stroke="#1c1c1c" stroke-width="1.1" />
<line x1="236.05" y1="498.4" x2="236.05" y2="500.7" stroke="#1c1c1c" stroke-width="1.1" />
<line x1="283.95" y1="498.4" x2="283.95" y2="500.7" stroke="#1c1c1c" stroke-width="1.1" />
<line x1="331.85" y1="498.4" x2="331.85" y2="500.7" stroke="#1c1c1c" stroke-width="1.1" />
<text x="178.3" y="530.0" text-anchor="middle" fill="#1a1a1a" stroke="#1a1a1a" stroke-width="0.25" style="font-family:'Liberation Sans';font-size:12.1px">2<tspan style="font-family:'Liberation Serif'">θ</tspan> [Degrees]</text>
<text x="11.9" y="402.2" text-anchor="middle" fill="#1a1a1a" stroke="#1a1a1a" stroke-width="0.25" style="font-family:'Liberation Sans';font-size:12.2px;font-weight:normal" transform="rotate(-90 11.9 402.2)">Intensity</text>
<text x="0.4" y="321.3" text-anchor="start" fill="#111" stroke="#111" stroke-width="0.2" style="font-family:'Liberation Serif';font-size:14px;font-weight:bold" >(c)</text>
<text x="110" y="282.5" text-anchor="middle" fill="#1a1a1a" stroke="#1a1a1a" stroke-width="0.25" style="font-family:'Liberation Sans';font-size:11px;font-weight:normal" >Increasing</text>
<text x="111.7" y="294.9" text-anchor="middle" fill="#1a1a1a" stroke="#1a1a1a" stroke-width="0.25" style="font-family:'Liberation Sans';font-size:11px;font-weight:normal" >GO reduction</text>
<line x1="82.9" y1="298.9" x2="131" y2="298.9" stroke="#000" stroke-width="2" />
<path d="M140.2,298.9 L129.5,295.6 L129.5,302.2 Z" fill="#000"/>
<text x="56.6" y="314.8" text-anchor="middle" fill="#1a1a1a" stroke="#1a1a1a" stroke-width="0.25" style="font-family:'Liberation Sans';font-size:10.7px;font-weight:normal" >10.5°</text>
<text x="122.2" y="314.8" text-anchor="middle" fill="#1a1a1a" stroke="#1a1a1a" stroke-width="0.25" style="font-family:'Liberation Sans';font-size:10.7px;font-weight:normal" >24.4°</text>
<text x="163.4" y="314.8" text-anchor="middle" fill="#1a1a1a" stroke="#1a1a1a" stroke-width="0.25" style="font-family:'Liberation Sans';font-size:10.7px;font-weight:normal" >26.6°</text>
<line x1="70.9" y1="306.5" x2="70.9" y2="497.5" stroke="#333" stroke-width="1" stroke-dasharray="2.9,1.2,0.8,1.2"/>
<line x1="137.3" y1="306.5" x2="137.3" y2="497.5" stroke="#333" stroke-width="1" stroke-dasharray="2.9,1.2,0.8,1.2"/>
<line x1="148.3" y1="306.5" x2="148.3" y2="497.5" stroke="#333" stroke-width="1" stroke-dasharray="2.9,1.2,0.8,1.2"/>
<text x="304.7" y="359.9" text-anchor="end" fill="#1a1a1a" stroke="#1a1a1a" stroke-width="0.25" style="font-family:'Liberation Sans';font-size:10.7px;font-weight:normal" >GO</text>
<text x="0" y="0" transform="translate(308.3 419.3) scale(1 0.98)" text-anchor="end" fill="#1a1a1a" stroke="#1a1a1a" stroke-width="0.25" style="font-family:'Liberation Sans';font-size:11.1px;font-weight:normal">rGO</text>
<text x="0" y="0" transform="translate(305.6 480.4) scale(1 0.98)" text-anchor="end" fill="#1a1a1a" stroke="#1a1a1a" stroke-width="0.25" style="font-family:'Liberation Sans';font-size:10.95px;font-weight:normal">GNP</text>
<path d="M44.5,349.36 L44.77,349.82 L45.1,349.73 L45.5,349.54 L45.94,349.65 L46.43,349.75 L46.94,349.82 L47.47,349.76 L48,350.18 L48.53,350.31 L49.05,350.1 L49.54,350.15 L50,349.99 L50.48,350.04 L50.96,350.19 L51.44,350.18 L51.92,350.48 L52.39,350.17 L52.86,350.12 L53.31,350.6 L53.76,350.4 L54.19,350.22 L54.6,350.42 L55,350.16 L55.51,350.41 L55.99,350.63 L56.44,350.57 L56.88,350.47 L57.29,350.22 L57.7,350.24 L58.1,350.09 L58.5,350.34 L58.96,350.13 L59.41,350.17 L59.85,349.84 L60.28,349.66 L60.69,349.81 L61.1,349.73 L61.5,349.48 L61.95,349.2 L62.4,348.91 L62.83,348.56 L63.24,347.95 L63.64,347.72 L64,347.23 L64.49,346.42 L64.93,345.71 L65.32,345.04 L65.7,344.08 L66.16,342.86 L66.58,341.32 L67,338.97 L67.44,336.54 L67.88,333.46 L68.3,330.23 L68.68,326.55 L69.04,322.98 L69.4,319.86 L69.77,316.91 L70.15,314.35 L70.5,313.46 L70.97,315.74 L71.4,320.17 L71.81,325.88 L72.2,332.08 L72.53,336.74 L72.9,340.09 L73.22,342.34 L73.59,344.05 L74,345.34 L74.35,346.2 L74.72,346.78 L75.12,347.26 L75.5,348.14 L75.84,348.44 L76.16,349.13 L76.52,349.62 L77,349.75 L77.33,349.99 L77.69,350.48 L78.08,350.59 L78.5,350.52 L78.95,350.73 L79.45,350.97 L80,351.6 L80.38,351.73 L80.79,351.57 L81.22,352.1 L81.67,352.36 L82.14,352.39 L82.61,352.44 L83.1,352.73 L83.58,352.72 L84.06,352.86 L84.54,353.54 L85,353.57 L85.44,353.71 L85.87,354.11 L86.28,354.07 L86.69,354.49 L87.1,354.67 L87.52,354.57 L87.96,354.79 L88.42,355.02 L88.91,355.19 L89.43,355.55 L90,355.58 L90.39,355.78 L90.81,355.75 L91.25,356.26 L91.71,356.1 L92.18,356.26 L92.66,356.44 L93.15,356.71 L93.65,356.58 L94.15,356.94 L94.66,356.84 L95.16,356.96 L95.66,357.07 L96.15,356.93 L96.63,357.24 L97.1,357.22 L97.56,357.24 L98,357.75 L98.52,357.57 L99.02,357.85 L99.51,358.11 L99.99,358.16 L100.47,358.18 L100.94,358.4 L101.4,358.55 L101.86,358.8 L102.32,358.59 L102.77,358.94 L103.22,358.91 L103.68,359.05 L104.14,359.42 L104.6,359.4 L105.1,359.56 L105.59,359.78 L106.08,359.98 L106.57,359.87 L107.06,360.07 L107.55,360.14 L108.04,360.26 L108.53,360.46 L109.02,360.45 L109.51,360.6 L110,360.68 L110.5,361.02 L111,361 L111.47,361.18 L111.93,361.3 L112.39,361.05 L112.85,361.29 L113.31,361.56 L113.77,361.6 L114.23,361.32 L114.7,361.4 L115.18,361.63 L115.66,361.52 L116.15,361.67 L116.66,361.66 L117.17,362.02 L117.7,362.14 L118.14,362.25 L118.59,361.92 L119.05,362.25 L119.51,362.26 L119.97,362.05 L120.44,362.46 L120.92,362.54 L121.4,362.2 L121.89,362.6 L122.38,362.36 L122.88,362.43 L123.39,362.71 L123.9,362.66 L124.41,362.36 L124.94,362.52 L125.46,362.58 L126,362.52 L126.44,362.47 L126.89,362.55 L127.34,362.76 L127.8,362.43 L128.26,362.71 L128.73,362.67 L129.21,362.47 L129.69,362.64 L130.17,362.8 L130.65,362.75 L131.14,362.54 L131.63,363.01 L132.11,362.92 L132.6,363.01 L133.09,362.59 L133.58,362.67 L134.07,362.56 L134.56,362.94 L135.04,362.68 L135.52,362.61 L136,362.76 L136.48,363.01 L136.95,362.96 L137.42,362.67 L137.89,362.61 L138.36,362.99 L138.83,362.81 L139.3,362.87 L139.77,362.56 L140.24,362.53 L140.71,362.84 L141.18,362.69 L141.65,362.51 L142.12,362.93 L142.6,362.76 L143.08,362.83 L143.56,362.46 L144.04,362.83 L144.52,362.43 L145.01,362.81 L145.5,362.59 L146,362.52 L146.47,362.61 L146.95,362.78 L147.42,362.44 L147.9,362.35 L148.37,362.53 L148.85,362.36 L149.33,362.27 L149.8,362.28 L150.29,362.2 L150.77,362.25 L151.26,362.29 L151.75,362.26 L152.24,362.47 L152.74,362.21 L153.24,362.3 L153.74,362.12 L154.26,362.18 L154.77,362 L155.29,362.11 L155.82,361.98 L156.36,362.32 L156.9,362.23 L157.35,362.04 L157.79,362.18 L158.24,362.41 L158.7,362 L159.15,362.35 L159.61,362.16 L160.07,362.2 L160.53,362.38 L161,362.16 L161.47,362.23 L161.94,362.32 L162.42,362.48 L162.9,362.17 L163.38,362.42 L163.87,362.37 L164.35,362.34 L164.85,362.23 L165.34,362.21 L165.85,362.07 L166.35,362.11 L166.86,362.09 L167.37,362.43 L167.89,362.19 L168.41,362.14 L168.94,362.1 L169.47,362.48 L170,362.49 L170.46,362.38 L170.92,362.18 L171.39,362.15 L171.87,362.16 L172.35,362.24 L172.83,362.07 L173.32,362.2 L173.82,362.1 L174.32,362.43 L174.82,362.42 L175.33,362.19 L175.84,362.02 L176.35,362.37 L176.86,362.02 L177.37,362.03 L177.89,361.83 L178.4,362 L178.92,362.03 L179.43,362.03 L179.95,361.86 L180.46,362 L180.97,361.74 L181.48,361.85 L181.99,361.75 L182.49,361.89 L182.99,361.7 L183.49,361.68 L183.98,361.82 L184.47,361.78 L184.95,361.95 L185.43,361.92 L185.9,362.03 L186.42,361.98 L186.93,362.01 L187.44,362.1 L187.95,361.86 L188.45,361.84 L188.95,362.18 L189.45,361.78 L189.95,362.08 L190.45,362.05 L190.94,361.77 L191.43,362.18 L191.92,362.23 L192.41,362.12 L192.9,362.19 L193.38,362.25 L193.86,361.93 L194.34,362.14 L194.82,362.15 L195.3,362.34 L195.77,362.34 L196.25,362.37 L196.72,362.26 L197.19,362.43 L197.66,362.34 L198.13,362.36 L198.6,362.14 L199.07,362.05 L199.53,362.11 L200,362.23 L200.52,362.11 L201.04,362.48 L201.55,362.34 L202.07,362.37 L202.58,362.37 L203.1,362.39 L203.61,362.29 L204.12,362.04 L204.62,362.43 L205.13,362.4 L205.64,362.27 L206.14,362.28 L206.64,362.33 L207.14,362.02 L207.63,362.35 L208.12,362.1 L208.61,362 L209.1,362.09 L209.59,362.32 L210.07,362.05 L210.55,362.32 L211.03,362.43 L211.5,362.19 L211.97,362.13 L212.44,362.18 L212.9,362.29 L213.42,362.34 L213.94,362.27 L214.45,362.29 L214.96,362.01 L215.46,362.06 L215.96,362.12 L216.46,362.37 L216.95,362.16 L217.44,362.3 L217.93,362.03 L218.42,362.07 L218.9,362.19 L219.37,362.4 L219.85,362.43 L220.32,362.44 L220.79,362.27 L221.26,362.41 L221.72,362.41 L222.18,362.44 L222.64,362.29 L223.1,362.72 L223.55,362.41 L224,362.84 L224.51,362.87 L224.99,362.48 L225.46,362.76 L225.91,363.02 L226.35,363.18 L226.78,363 L227.2,363 L227.62,363.06 L228.04,363.52 L228.47,363.25 L228.9,363.53 L229.34,363.4 L229.8,363.69 L230.27,363.99 L230.76,363.67 L231.27,364.09 L231.81,364.01 L232.37,364.27 L232.97,364.25 L233.6,364.07 L234,364.43 L234.41,364.25 L234.84,364.05 L235.28,364.07 L235.72,364.33 L236.18,364.34 L236.65,364.28 L237.13,364.22 L237.61,364.34 L238.1,364.35 L238.6,364.63 L239.11,364.22 L239.62,364.61 L240.14,364.67 L240.66,364.32 L241.18,364.74 L241.71,364.64 L242.24,364.75 L242.77,364.45 L243.3,364.51 L243.83,364.53 L244.36,364.84 L244.89,364.64 L245.42,364.54 L245.95,364.58 L246.47,364.51 L246.99,364.41 L247.51,364.45 L248.02,364.82 L248.52,364.56 L249.02,364.89 L249.52,364.56 L250,364.58 L250.51,364.72 L251.01,364.57 L251.51,364.67 L252,364.98 L252.48,364.95 L252.96,364.93 L253.44,364.85 L253.92,365 L254.39,365.02 L254.86,364.84 L255.33,364.93 L255.8,364.61 L256.27,364.96 L256.74,364.82 L257.21,364.98 L257.68,364.94 L258.15,364.77 L258.63,364.66 L259.11,365.11 L259.59,364.72 L260.08,364.9 L260.57,364.84 L261.07,364.83 L261.57,365.06 L262.08,365.18 L262.59,364.83 L263.12,365.04 L263.65,364.87 L264.19,365.01 L264.74,364.94 L265.3,364.83 L265.74,364.84 L266.18,364.87 L266.63,365.23 L267.08,365.03 L267.53,364.9 L267.99,365.25 L268.45,365.3 L268.91,365.03 L269.38,364.89 L269.85,364.92 L270.32,364.88 L270.8,365.01 L271.28,364.89 L271.76,364.97 L272.24,364.99 L272.73,365.15 L273.22,365.32 L273.71,365.26 L274.2,365.1 L274.7,365.11 L275.2,365.17 L275.7,365.1 L276.2,365.09 L276.71,364.96 L277.21,365.08 L277.72,365.43 L278.23,365.02 L278.75,365.21 L279.26,365.28 L279.78,365.41 L280.29,365.09 L280.81,365.13 L281.33,365.12 L281.85,365.2 L282.37,365.24 L282.9,365.5 L283.42,365.45 L283.95,365.47 L284.47,365.05 L285,365.07 L285.47,365.41 L285.94,365.51 L286.43,365.31 L286.93,365.37 L287.44,365.08 L287.96,365.29 L288.49,365.56 L289.03,365.52 L289.57,365.54 L290.12,365.61 L290.68,365.25 L291.24,365.19 L291.8,365.22 L292.37,365.41 L292.94,365.5 L293.51,365.64 L294.08,365.53 L294.65,365.51 L295.22,365.57 L295.79,365.43 L296.36,365.48 L296.92,365.23 L297.48,365.61 L298.04,365.34 L298.59,365.69 L299.13,365.56 L299.67,365.4 L300.2,365.32 L300.72,365.39 L301.23,365.59 L301.73,365.62 L302.22,365.34 L302.7,365.32 L303.16,365.56 L303.62,365.59 L304.05,365.5 L304.48,365.42 L304.89,365.62 L305.28,365.33 L305.65,365.48 L306.01,365.56 L306.35,365.81 L306.67,365.66 L306.97,365.78 L307.24,365.58 L307.5,365.47" fill="none" stroke="#111" stroke-width="1.1" stroke-linejoin="round" stroke-linecap="round" />
<path d="M44.4,395.72 L44.67,396.9 L45.01,396.66 L45.4,396.23 L45.85,395.99 L46.34,396.91 L46.85,397.38 L47.39,397.21 L47.93,397.17 L48.47,397.98 L49,398.54 L49.44,397.62 L49.89,397.46 L50.36,398.05 L50.83,398.3 L51.31,398.81 L51.8,398.2 L52.29,399.22 L52.79,399.24 L53.29,399 L53.8,398.66 L54.3,399.91 L54.8,399.02 L55.26,399.87 L55.73,399.06 L56.2,399.13 L56.68,400.01 L57.16,399.38 L57.63,400.43 L58.12,399.81 L58.6,399.41 L59.08,399.53 L59.56,399.88 L60.04,400.32 L60.52,400.81 L61,399.67 L61.48,400.1 L61.96,399.89 L62.44,401.09 L62.92,399.89 L63.4,399.81 L63.88,399.88 L64.37,400.43 L64.84,401.24 L65.32,401.28 L65.8,401.12 L66.27,401.59 L66.74,401.56 L67.2,400.74 L67.69,400.63 L68.18,401.86 L68.66,401.68 L69.13,400.72 L69.6,401.79 L70.08,401.48 L70.55,401.6 L71.02,401.67 L71.5,401.56 L71.99,401.46 L72.49,402.02 L73,402.28 L73.45,403.32 L73.9,402.21 L74.36,403.62 L74.83,402.63 L75.31,403.01 L75.78,403.86 L76.26,404.02 L76.74,403.6 L77.22,403.19 L77.71,403.99 L78.18,404.01 L78.66,404.99 L79.13,404.07 L79.6,404.5 L80.1,405.48 L80.6,404.36 L81.1,405.12 L81.6,405.91 L82.09,406.04 L82.59,405.14 L83.08,405.33 L83.58,405.57 L84.07,407.05 L84.55,406.25 L85.04,407.18 L85.52,407.6 L86,406.96 L86.48,407.05 L86.96,408.28 L87.43,407.97 L87.91,407.64 L88.38,408.52 L88.85,408.12 L89.32,408.26 L89.78,408.05 L90.24,409.37 L90.69,409.8 L91.14,409.56 L91.57,410.2 L92,408.99 L92.49,409.49 L92.97,410.03 L93.44,410.93 L93.89,411.1 L94.34,410.41 L94.78,410.36 L95.22,410.78 L95.66,411.01 L96.1,411.8 L96.55,410.81 L97,411.85 L97.45,411.87 L97.9,412.11 L98.34,412.14 L98.78,411.99 L99.22,411.66 L99.66,411.73 L100.11,411.86 L100.56,412.55 L101.03,411.54 L101.51,411.74 L102,412.58 L102.43,411.81 L102.86,411.52 L103.31,411.45 L103.76,412.19 L104.22,411.8 L104.68,412.73 L105.15,412.52 L105.62,412.59 L106.09,411.42 L106.57,411.05 L107.04,410.95 L107.52,411.43 L108,411.61 L108.48,411.07 L108.97,410.59 L109.46,410.68 L109.95,410.8 L110.45,410.67 L110.94,410.57 L111.44,410.5 L111.94,409.99 L112.44,408.94 L112.94,409.77 L113.43,408.7 L113.92,408.86 L114.4,408.31 L114.88,408.6 L115.35,407.52 L115.82,407.31 L116.29,407.03 L116.76,406.6 L117.22,407.4 L117.69,406.64 L118.15,405.96 L118.62,405.75 L119.08,406.32 L119.55,405.27 L120.03,404.53 L120.5,405.06 L120.98,404.49 L121.47,404.64 L121.97,402.95 L122.48,403.14 L122.98,403.28 L123.49,402.93 L123.99,402.66 L124.48,400.96 L124.97,400.96 L125.45,400.32 L125.92,400.05 L126.37,400.86 L126.8,399.92 L127.34,399.99 L127.87,398.69 L128.38,398.97 L128.88,397.88 L129.36,397.15 L129.82,397.48 L130.27,397.31 L130.69,395.65 L131.11,396 L131.5,395.68 L132.03,394.61 L132.52,394.4 L132.97,393.66 L133.39,393.4 L133.79,393.16 L134.15,393.39 L134.5,393.23 L135.01,392.25 L135.43,391.79 L135.8,392.18 L136.2,392.67 L136.6,391.89 L136.97,392.07 L137.41,392.03 L138,393.24 L138.37,393.14 L138.79,392.74 L139.24,393.19 L139.72,394.06 L140.22,394.74 L140.72,395.35 L141.22,395.01 L141.7,395.6 L142.17,396.88 L142.65,396.96 L143.13,397.29 L143.61,397.87 L144.09,399.38 L144.56,398.96 L145.03,399.88 L145.5,400.09 L145.96,400.69 L146.41,401.87 L146.86,402.59 L147.31,402.15 L147.75,402.4 L148.2,403.69 L148.65,403.39 L149.1,403.56 L149.56,405.36 L150.02,405.08 L150.48,406.1 L150.94,405.9 L151.4,407.03 L151.87,406.81 L152.33,406.78 L152.8,406.97 L153.27,408.19 L153.75,408.74 L154.24,409.56 L154.72,408.74 L155.2,409.95 L155.68,409.98 L156.14,410.59 L156.6,410.47 L157.1,411.15 L157.58,411.99 L158.05,413.07 L158.52,412.33 L159,413.37 L159.49,414.31 L160,415 L160.41,414.18 L160.81,414.41 L161.21,415.95 L161.63,416.32 L162.05,415.89 L162.5,415.56 L162.97,417.19 L163.46,416.7 L164,417.81 L164.39,417.61 L164.78,418.15 L165.19,417.39 L165.6,418.57 L166.03,417.96 L166.47,418.47 L166.92,419.38 L167.39,419.59 L167.87,418.86 L168.38,419.16 L168.9,419.67 L169.44,420.09 L170,420.13 L170.42,419.91 L170.85,420.26 L171.29,421.15 L171.74,421.58 L172.2,420.47 L172.67,421.42 L173.15,421.89 L173.64,420.98 L174.13,422.35 L174.63,421.44 L175.15,422.34 L175.66,422.43 L176.19,422.72 L176.72,422.41 L177.26,422.76 L177.8,423.18 L178.35,423.11 L178.9,423.64 L179.34,423.46 L179.79,423.59 L180.25,423.11 L180.71,424.15 L181.19,424.1 L181.67,423.87 L182.15,424.81 L182.64,424.98 L183.14,424.65 L183.63,424.38 L184.13,424.97 L184.63,424.57 L185.13,424.75 L185.63,425.35 L186.13,424.98 L186.63,425.65 L187.13,425.88 L187.62,425.31 L188.11,426.34 L188.59,425.63 L189.07,426.73 L189.54,426.91 L190,426.62 L190.5,426.05 L190.99,426.83 L191.47,426.75 L191.94,427.71 L192.41,426.58 L192.88,427.76 L193.34,428.06 L193.8,427.75 L194.26,427.96 L194.71,427.11 L195.17,428.37 L195.63,427.71 L196.09,428.48 L196.56,428.49 L197.03,427.43 L197.5,428.43 L197.99,428.71 L198.48,427.47 L198.97,427.96 L199.48,428.63 L200,427.79 L200.44,428.94 L200.89,428.05 L201.35,428.91 L201.81,427.94 L202.27,428.51 L202.74,429.18 L203.21,428.14 L203.69,428.26 L204.17,428.65 L204.66,428.4 L205.14,428 L205.63,428.25 L206.12,428.24 L206.61,429.43 L207.1,429.07 L207.6,429.41 L208.09,428.34 L208.58,429.29 L209.08,428.3 L209.57,428.95 L210.06,429.13 L210.55,428.73 L211.03,429.52 L211.52,429.06 L212,429.12 L212.48,429.59 L212.95,428.44 L213.41,429.79 L213.88,429.26 L214.34,428.92 L214.79,429.54 L215.25,428.75 L215.7,429.85 L216.15,429.24 L216.61,428.92 L217.06,429.53 L217.52,429.06 L217.98,428.67 L218.44,429.53 L218.91,428.49 L219.39,429.66 L219.86,428.82 L220.35,429.41 L220.84,429.94 L221.34,429.35 L221.85,429.48 L222.37,428.97 L222.9,428.52 L223.45,428.58 L224,428.77 L224.42,429.49 L224.85,429.23 L225.27,429.37 L225.69,429.96 L226.12,428.83 L226.54,428.99 L226.97,429.65 L227.39,428.72 L227.82,428.71 L228.26,429.26 L228.69,428.9 L229.13,429.3 L229.58,429.12 L230.02,429.68 L230.48,429.71 L230.94,429.15 L231.4,429.8 L231.87,429.6 L232.35,429.11 L232.84,430.34 L233.33,429.32 L233.83,429.2 L234.34,429.15 L234.86,429.98 L235.39,430.36 L235.92,430.25 L236.47,429.7 L237.03,429.52 L237.6,429.17 L238.18,430.14 L238.77,430.04 L239.38,429.75 L240,430.22 L240.41,429.93 L240.83,430.69 L241.26,430.4 L241.69,429.69 L242.13,430.69 L242.58,429.42 L243.04,430.17 L243.51,430 L243.98,429.77 L244.46,429.52 L244.94,430.62 L245.43,429.49 L245.93,430.32 L246.43,430.92 L246.93,429.74 L247.44,429.85 L247.95,430.48 L248.47,430.35 L248.99,430.58 L249.51,430.85 L250.03,429.92 L250.56,430.14 L251.09,430.15 L251.62,429.79 L252.15,431.07 L252.69,430.94 L253.22,430.85 L253.75,429.81 L254.28,431.09 L254.82,430.96 L255.35,430.56 L255.88,431 L256.41,430.59 L256.94,430.27 L257.46,430.11 L257.99,430.32 L258.51,430.05 L259.02,430.51 L259.54,431.15 L260.04,431.09 L260.55,431.34 L261.05,431.16 L261.55,430.51 L262.04,430.96 L262.52,430.8 L263,431.35 L263.48,430.97 L263.94,430.6 L264.4,431.18 L264.85,431.68 L265.3,430.58 L265.86,431.59 L266.41,430.31 L266.95,430.7 L267.48,430.69 L268.01,431.47 L268.53,431.79 L269.05,431.51 L269.55,430.9 L270.06,431.75 L270.55,430.94 L271.05,430.83 L271.53,431.85 L272.02,431.45 L272.5,431.56 L272.97,431.54 L273.45,432.02 L273.92,431.28 L274.39,431.85 L274.86,431.65 L275.33,431.91 L275.79,431.3 L276.26,431.75 L276.72,431.53 L277.19,431.15 L277.65,431.03 L278.12,431.66 L278.59,430.86 L279.06,432.12 L279.53,430.99 L280.01,430.83 L280.49,430.97 L280.97,432.21 L281.46,431.35 L281.95,431.07 L282.44,430.91 L282.94,430.95 L283.45,431.94 L283.96,431.87 L284.48,431.98 L285,432.06 L285.47,431.06 L285.94,431.86 L286.43,431.54 L286.93,432.23 L287.44,432.25 L287.96,432.37 L288.49,431.15 L289.03,432.37 L289.57,432.45 L290.12,432.51 L290.68,431.27 L291.24,431.44 L291.8,431.31 L292.37,431.21 L292.94,432.45 L293.51,432.41 L294.08,432.16 L294.65,432.46 L295.22,432.18 L295.79,431.68 L296.36,431.41 L296.92,431.43 L297.48,432.43 L298.04,431.62 L298.59,431.8 L299.13,431.97 L299.67,431.38 L300.2,431.75 L300.72,431.8 L301.23,432.46 L301.73,431.95 L302.22,431.9 L302.7,432.87 L303.16,432.19 L303.62,432.73 L304.05,432.39 L304.48,431.52 L304.89,432.1 L305.28,432.15 L305.65,432.66 L306.01,432.03 L306.35,432.58 L306.67,432.33 L306.97,431.86 L307.24,432.84 L307.5,431.69" fill="none" stroke="#f01818" stroke-width="2.1" stroke-linejoin="round" stroke-linecap="round" />
<path d="M44.4,480.9C44.83,481.12 46.08,481.87 47,482.2C47.92,482.53 48.07,482.7 49.9,482.9C51.73,483.1 55.12,483.27 58,483.4C60.88,483.53 63.53,483.62 67.2,483.7C70.87,483.78 75.87,483.82 80,483.9C84.13,483.98 87.83,484.07 92,484.2C96.17,484.33 100.85,484.53 105,484.7C109.15,484.87 113.07,485.15 116.9,485.2C120.73,485.25 124.7,485.1 128,485C131.3,484.9 134.62,484.77 136.7,484.6C138.78,484.43 139.45,484.33 140.5,484C141.55,483.67 142.25,483.47 143,482.6C143.75,481.73 144.47,480.9 145,478.8C145.53,476.7 145.83,473.97 146.2,470C146.57,466.03 146.93,459 147.2,455C147.47,451 147.6,447.97 147.8,446C148,444.03 148.2,443.2 148.4,443.2C148.6,443.2 148.8,444.03 149,446C149.2,447.97 149.35,451 149.6,455C149.85,459 150.13,465.92 150.5,470C150.87,474.08 151.23,477.25 151.8,479.5C152.37,481.75 152.87,482.65 153.9,483.5C154.93,484.35 155.9,484.3 158,484.6C160.1,484.9 162,485.1 166.5,485.3C171,485.5 179.42,485.62 185,485.8C190.58,485.98 195,486.33 200,486.4C205,486.47 211,486.28 215,486.2C219,486.12 221.5,486.03 224,485.9C226.5,485.77 228.15,485.63 230,485.4C231.85,485.17 233.6,484.47 235.1,484.5C236.6,484.53 237.67,485.32 239,485.6C240.33,485.88 238.77,486.08 243.1,486.2C247.43,486.32 259.18,486.3 265,486.3C270.82,486.3 275.25,486.35 278,486.2C280.75,486.05 280.7,485.63 281.5,485.4C282.3,485.17 282.33,484.77 282.8,484.8C283.27,484.83 283.77,485.32 284.3,485.6C284.83,485.88 284.22,486.33 286,486.5C287.78,486.67 291.42,486.57 295,486.6C298.58,486.63 305.42,486.68 307.5,486.7" fill="none" stroke="#4646f0" stroke-width="1.15" stroke-linejoin="round" stroke-linecap="round" />
<line x1="378.6" y1="295.2" x2="378.6" y2="493.4" stroke="#1c1c1c" stroke-width="1.3" />
<line x1="378" y1="492.9" x2="685" y2="492.9" stroke="#1c1c1c" stroke-width="1.3" />
<line x1="378.6" y1="492.9" x2="378.6" y2="497.1" stroke="#1c1c1c" stroke-width="1.2" />
<text x="0" y="0" transform="translate(378.6 509.8) scale(1 0.96)" text-anchor="middle" fill="#1a1a1a" stroke="#1a1a1a" stroke-width="0.25" style="font-family:'Liberation Sans';font-size:10.4px;font-weight:normal">292</text>
<line x1="433.8" y1="492.9" x2="433.8" y2="497.1" stroke="#1c1c1c" stroke-width="1.2" />
<text x="0" y="0" transform="translate(433.8 509.8) scale(1 0.96)" text-anchor="middle" fill="#1a1a1a" stroke="#1a1a1a" stroke-width="0.25" style="font-family:'Liberation Sans';font-size:10.4px;font-weight:normal">290</text>
<line x1="489" y1="492.9" x2="489" y2="497.1" stroke="#1c1c1c" stroke-width="1.2" />
<text x="0" y="0" transform="translate(489 509.8) scale(1 0.96)" text-anchor="middle" fill="#1a1a1a" stroke="#1a1a1a" stroke-width="0.25" style="font-family:'Liberation Sans';font-size:10.4px;font-weight:normal">288</text>
<line x1="544.2" y1="492.9" x2="544.2" y2="497.1" stroke="#1c1c1c" stroke-width="1.2" />
<text x="0" y="0" transform="translate(544.2 509.8) scale(1 0.96)" text-anchor="middle" fill="#1a1a1a" stroke="#1a1a1a" stroke-width="0.25" style="font-family:'Liberation Sans';font-size:10.4px;font-weight:normal">286</text>
<line x1="599.4" y1="492.9" x2="599.4" y2="497.1" stroke="#1c1c1c" stroke-width="1.2" />
<text x="0" y="0" transform="translate(599.4 509.8) scale(1 0.96)" text-anchor="middle" fill="#1a1a1a" stroke="#1a1a1a" stroke-width="0.25" style="font-family:'Liberation Sans';font-size:10.4px;font-weight:normal">284</text>
<line x1="654.6" y1="492.9" x2="654.6" y2="497.1" stroke="#1c1c1c" stroke-width="1.2" />
<text x="0" y="0" transform="translate(654.6 509.8) scale(1 0.96)" text-anchor="middle" fill="#1a1a1a" stroke="#1a1a1a" stroke-width="0.25" style="font-family:'Liberation Sans';font-size:10.4px;font-weight:normal">282</text>
<line x1="406.2" y1="492.9" x2="406.2" y2="495.2" stroke="#1c1c1c" stroke-width="1.1" />
<line x1="461.4" y1="492.9" x2="461.4" y2="495.2" stroke="#1c1c1c" stroke-width="1.1" />
<line x1="516.6" y1="492.9" x2="516.6" y2="495.2" stroke="#1c1c1c" stroke-width="1.1" />
<line x1="571.8" y1="492.9" x2="571.8" y2="495.2" stroke="#1c1c1c" stroke-width="1.1" />
<line x1="627" y1="492.9" x2="627" y2="495.2" stroke="#1c1c1c" stroke-width="1.1" />
<line x1="682.2" y1="492.9" x2="682.2" y2="495.2" stroke="#1c1c1c" stroke-width="1.1" />
<text x="534.5" y="527.7" text-anchor="middle" fill="#1a1a1a" stroke="#1a1a1a" stroke-width="0.25" style="font-family:'Liberation Sans';font-size:12.2px;font-weight:normal" >Binding Energy [eV]</text>
<text x="368.6" y="396.7" text-anchor="middle" fill="#1a1a1a" stroke="#1a1a1a" stroke-width="0.25" style="font-family:'Liberation Sans';font-size:12.2px;font-weight:normal" transform="rotate(-90 368.6 396.7)">Intensity</text>
<text x="357.7" y="308.8" text-anchor="start" fill="#111" stroke="#111" stroke-width="0.2" style="font-family:'Liberation Serif';font-size:14px;font-weight:bold" >(d)</text>
<line x1="389" y1="302.7" x2="413.3" y2="302.7" stroke="#ff44ff" stroke-width="1.3" stroke-dasharray="1.3,1.5"/>
<text x="0" y="0" transform="translate(417 306.6) scale(1 1.06)" text-anchor="start" fill="#1a1a1a" stroke="#1a1a1a" stroke-width="0.25" style="font-family:'Liberation Sans';font-size:10.5px;font-weight:normal">C-OH</text>
<line x1="389" y1="316" x2="413.3" y2="316" stroke="#ff4848" stroke-width="1.3" stroke-dasharray="1.3,1.5"/>
<text x="0" y="0" transform="translate(417 319.9) scale(1 1.06)" text-anchor="start" fill="#1a1a1a" stroke="#1a1a1a" stroke-width="0.25" style="font-family:'Liberation Sans';font-size:10.5px;font-weight:normal">C-C</text>
<line x1="389" y1="329.1" x2="413.3" y2="329.1" stroke="#a8a850" stroke-width="1.3" stroke-dasharray="1.3,1.5"/>
<text x="0" y="0" transform="translate(417 333) scale(1 1.06)" text-anchor="start" fill="#1a1a1a" stroke="#1a1a1a" stroke-width="0.25" style="font-family:'Liberation Sans';font-size:10.5px;font-weight:normal">C=O</text>
<line x1="389" y1="342.3" x2="413.3" y2="342.3" stroke="#4444ee" stroke-width="1.3" stroke-dasharray="1.3,1.5"/>
<text x="0" y="0" transform="translate(417 346.2) scale(1 1.06)" text-anchor="start" fill="#1a1a1a" stroke="#1a1a1a" stroke-width="0.25" style="font-family:'Liberation Sans';font-size:10.5px;font-weight:normal">HO-C=O</text>
<text x="0" y="0" transform="translate(652.8 339) scale(1 1.03)" text-anchor="start" fill="#1a1a1a" stroke="#1a1a1a" stroke-width="0.25" style="font-family:'Liberation Sans';font-size:10.2px;font-weight:normal">GO</text>
<text x="0" y="0" transform="translate(652.6 451.6) scale(1 0.98)" text-anchor="start" fill="#1a1a1a" stroke="#1a1a1a" stroke-width="0.25" style="font-family:'Liberation Sans';font-size:10.7px;font-weight:normal">rGO</text>
<path d="M378.6,379.3 L379.4,379.31 L380.2,379.33 L381,379.34 L381.8,379.36 L382.6,379.37 L383.4,379.38 L384.2,379.4 L385,379.41 L385.8,379.43 L386.6,379.44 L387.4,379.45 L388.2,379.47 L389,379.48 L389.8,379.5 L390.6,379.51 L391.4,379.52 L392.2,379.54 L393,379.55 L393.8,379.57 L394.6,379.58 L395.4,379.59 L396.2,379.61 L397,379.62 L397.8,379.64 L398.6,379.65 L399.4,379.66 L400.2,379.68 L401,379.69 L401.8,379.71 L402.6,379.72 L403.4,379.73 L404.2,379.75 L405,379.76 L405.8,379.78 L406.6,379.79 L407.4,379.8 L408.2,379.82 L409,379.83 L409.8,379.85 L410.6,379.86 L411.4,379.87 L412.2,379.89 L413,379.9 L413.8,379.92 L414.6,379.93 L415.4,379.94 L416.2,379.96 L417,379.97 L417.8,379.99 L418.6,380 L419.4,380.01 L420.2,380.03 L421,380.04 L421.8,380.06 L422.6,380.07 L423.4,380.08 L424.2,380.1 L425,380.11 L425.8,380.13 L426.6,380.14 L427.4,380.15 L428.2,380.17 L429,380.18 L429.8,380.2 L430.6,380.21 L431.4,380.22 L432.2,380.24 L433,380.25 L433.8,380.27 L434.6,380.28 L435.4,380.29 L436.2,380.31 L437,380.32 L437.8,380.34 L438.6,380.35 L439.4,380.36 L440.2,380.38 L441,380.39 L441.8,380.41 L442.6,380.42 L443.4,380.43 L444.2,380.45 L445,380.46 L445.8,380.48 L446.6,380.49 L447.4,380.5 L448.2,380.52 L449,380.53 L449.8,380.55 L450.6,380.56 L451.4,380.57 L452.2,380.59 L453,380.6 L453.8,380.62 L454.6,380.63 L455.4,380.64 L456.2,380.66 L457,380.67 L457.8,380.69 L458.6,380.7 L459.4,380.71 L460.2,380.73 L461,380.74 L461.8,380.76 L462.6,380.77 L463.4,380.78 L464.2,380.8 L465,380.81 L465.8,380.83 L466.6,380.84 L467.4,380.85 L468.2,380.87 L469,380.88 L469.8,380.9 L470.6,380.91 L471.4,380.92 L472.2,380.94 L473,380.95 L473.8,380.97 L474.6,380.98 L475.4,380.99 L476.2,381.01 L477,381.02 L477.8,381.04 L478.6,381.05 L479.4,381.06 L480.2,381.08 L481,381.09 L481.8,381.11 L482.6,381.12 L483.4,381.13 L484.2,381.15 L485,381.16 L485.8,381.18 L486.6,381.19 L487.4,381.2 L488.2,381.22 L489,381.23 L489.8,381.25 L490.6,381.26 L491.4,381.27 L492.2,381.29 L493,381.3 L493.8,381.32 L494.6,381.33 L495.4,381.34 L496.2,381.36 L497,381.37 L497.8,381.39 L498.6,381.4 L499.4,381.41 L500.2,381.43 L501,381.44 L501.8,381.46 L502.6,381.47 L503.4,381.48 L504.2,381.5 L505,381.51 L505.8,381.53 L506.6,381.54 L507.4,381.55 L508.2,381.57 L509,381.58 L509.8,381.6 L510.6,381.61 L511.4,381.62 L512.2,381.64 L513,381.65 L513.8,381.67 L514.6,381.68 L515.4,381.69 L516.2,381.71 L517,381.72 L517.8,381.74 L518.6,381.75 L519.4,381.76 L520.2,381.78 L521,381.79 L521.8,381.81 L522.6,381.82 L523.4,381.83 L524.2,381.85 L525,381.86 L525.8,381.88 L526.6,381.89 L527.4,381.9 L528.2,381.92 L529,381.93 L529.8,381.95 L530.6,381.96 L531.4,381.97 L532.2,381.99 L533,382 L533.8,382.02 L534.6,382.03 L535.4,382.04 L536.2,382.06 L537,382.07 L537.8,382.09 L538.6,382.1 L539.4,382.11 L540.2,382.13 L541,382.14 L541.8,382.16 L542.6,382.17 L543.4,382.18 L544.2,382.2 L545,382.21 L545.8,382.23 L546.6,382.24 L547.4,382.25 L548.2,382.27 L549,382.28 L549.8,382.3 L550.6,382.31 L551.4,382.32 L552.2,382.34 L553,382.35 L553.8,382.37 L554.6,382.38 L555.4,382.39 L556.2,382.41 L557,382.42 L557.8,382.44 L558.6,382.45 L559.4,382.46 L560.2,382.48 L561,382.49 L561.8,382.51 L562.6,382.52 L563.4,382.53 L564.2,382.55 L565,382.56 L565.8,382.58 L566.6,382.59 L567.4,382.6 L568.2,382.62 L569,382.63 L569.8,382.65 L570.6,382.66 L571.4,382.67 L572.2,382.69 L573,382.7 L573.8,382.72 L574.6,382.73 L575.4,382.74 L576.2,382.76 L577,382.77 L577.8,382.79 L578.6,382.8 L579.4,382.81 L580.2,382.83 L581,382.84 L581.8,382.86 L582.6,382.87 L583.4,382.88 L584.2,382.9 L585,382.91 L585.8,382.93 L586.6,382.94 L587.4,382.95 L588.2,382.97 L589,382.98 L589.8,383 L590.6,383.01 L591.4,383.02 L592.2,383.04 L593,383.05 L593.8,383.07 L594.6,383.08 L595.4,383.09 L596.2,383.11 L597,383.12 L597.8,383.14 L598.6,383.15 L599.4,383.16 L600.2,383.18 L601,383.19 L601.8,383.21 L602.6,383.22 L603.4,383.23 L604.2,383.25 L605,383.26 L605.8,383.28 L606.6,383.29 L607.4,383.3 L608.2,383.32 L609,383.33 L609.8,383.35 L610.6,383.36 L611.4,383.37 L612.2,383.39 L613,383.4 L613.8,383.42 L614.6,383.43 L615.4,383.44 L616.2,383.46 L617,383.47 L617.8,383.49 L618.6,383.5 L619.4,383.51 L620.2,383.53 L621,383.54 L621.8,383.56 L622.6,383.57 L623.4,383.58 L624.2,383.6 L625,383.61 L625.8,383.63 L626.6,383.64 L627.4,383.65 L628.2,383.67 L629,383.68 L629.8,383.7 L630.6,383.71 L631.4,383.72 L632.2,383.74 L633,383.75 L633.8,383.77 L634.6,383.78 L635.4,383.79 L636.2,383.81 L637,383.82 L637.8,383.84 L638.6,383.85 L639.4,383.86 L640.2,383.88 L641,383.89 L641.8,383.91 L642.6,383.92 L643.4,383.93 L644.2,383.95 L645,383.96 L645.8,383.98 L646.6,383.99 L647.4,384 L648.2,384.02 L649,384.03 L649.8,384.05 L650.6,384.06 L651.4,384.07 L652.2,384.09 L653,384.1 L653.8,384.12 L654.6,384.13 L655.4,384.14 L656.2,384.16 L657,384.17 L657.8,384.19 L658.6,384.2 L659.4,384.21 L660.2,384.23 L661,384.24 L661.8,384.26 L662.6,384.27 L663.4,384.28 L664.2,384.3 L665,384.31 L665.8,384.33 L666.6,384.34 L667.4,384.35 L668.2,384.37 L669,384.38 L669.8,384.4 L670.6,384.41 L671.4,384.42 L672.2,384.44 L673,384.45 L673.8,384.47 L674.6,384.48 L675.4,384.49 L676.2,384.51 L677,384.52 L677.8,384.54 L678.6,384.55 L679.4,384.56 L680.2,384.58 L681,384.59 L681.8,384.61 L682.6,384.62 L683.4,384.63 L684.2,384.65" fill="none" stroke="#222" stroke-width="1.2" stroke-linejoin="round" stroke-linecap="butt" stroke-dasharray="1.3,1.5"/>
<path d="M378.6,379.3 L379.4,379.31 L380.2,379.33 L381,379.34 L381.8,379.36 L382.6,379.37 L383.4,379.38 L384.2,379.4 L385,379.41 L385.8,379.43 L386.6,379.44 L387.4,379.45 L388.2,379.47 L389,379.48 L389.8,379.5 L390.6,379.51 L391.4,379.52 L392.2,379.54 L393,379.55 L393.8,379.57 L394.6,379.58 L395.4,379.59 L396.2,379.61 L397,379.62 L397.8,379.64 L398.6,379.65 L399.4,379.66 L400.2,379.68 L401,379.69 L401.8,379.71 L402.6,379.72 L403.4,379.73 L404.2,379.75 L405,379.76 L405.8,379.78 L406.6,379.79 L407.4,379.8 L408.2,379.82 L409,379.83 L409.8,379.84 L410.6,379.86 L411.4,379.87 L412.2,379.88 L413,379.9 L413.8,379.91 L414.6,379.92 L415.4,379.93 L416.2,379.95 L417,379.96 L417.8,379.97 L418.6,379.98 L419.4,379.99 L420.2,379.99 L421,380 L421.8,380.01 L422.6,380.01 L423.4,380.01 L424.2,380.01 L425,380.01 L425.8,380 L426.6,379.99 L427.4,379.98 L428.2,379.96 L429,379.94 L429.8,379.91 L430.6,379.88 L431.4,379.84 L432.2,379.79 L433,379.73 L433.8,379.67 L434.6,379.59 L435.4,379.51 L436.2,379.41 L437,379.31 L437.8,379.19 L438.6,379.05 L439.4,378.91 L440.2,378.75 L441,378.57 L441.8,378.38 L442.6,378.17 L443.4,377.95 L444.2,377.71 L445,377.46 L445.8,377.2 L446.6,376.92 L447.4,376.62 L448.2,376.32 L449,376.01 L449.8,375.68 L450.6,375.35 L451.4,375.02 L452.2,374.68 L453,374.34 L453.8,374 L454.6,373.67 L455.4,373.34 L456.2,373.02 L457,372.72 L457.8,372.43 L458.6,372.16 L459.4,371.92 L460.2,371.69 L461,371.49 L461.8,371.32 L462.6,371.18 L463.4,371.06 L464.2,370.98 L465,370.94 L465.8,370.93 L466.6,370.95 L467.4,370.99 L468.2,371.05 L469,371.14 L469.8,371.24 L470.6,371.37 L471.4,371.51 L472.2,371.68 L473,371.86 L473.8,372.06 L474.6,372.27 L475.4,372.5 L476.2,372.74 L477,372.99 L477.8,373.26 L478.6,373.53 L479.4,373.81 L480.2,374.1 L481,374.39 L481.8,374.68 L482.6,374.98 L483.4,375.28 L484.2,375.57 L485,375.87 L485.8,376.16 L486.6,376.44 L487.4,376.73 L488.2,377 L489,377.27 L489.8,377.54 L490.6,377.79 L491.4,378.04 L492.2,378.27 L493,378.5 L493.8,378.72 L494.6,378.93 L495.4,379.13 L496.2,379.32 L497,379.5 L497.8,379.67 L498.6,379.83 L499.4,379.98 L500.2,380.12 L501,380.26 L501.8,380.38 L502.6,380.5 L503.4,380.61 L504.2,380.71 L505,380.8 L505.8,380.89 L506.6,380.97 L507.4,381.05 L508.2,381.12 L509,381.18 L509.8,381.24 L510.6,381.29 L511.4,381.35 L512.2,381.39 L513,381.44 L513.8,381.48 L514.6,381.51 L515.4,381.55 L516.2,381.58 L517,381.61 L517.8,381.64 L518.6,381.67 L519.4,381.69 L520.2,381.72 L521,381.74 L521.8,381.76 L522.6,381.78 L523.4,381.8 L524.2,381.82 L525,381.84 L525.8,381.86 L526.6,381.87 L527.4,381.89 L528.2,381.91 L529,381.92 L529.8,381.94 L530.6,381.95 L531.4,381.97 L532.2,381.98 L533,382 L533.8,382.01 L534.6,382.03 L535.4,382.04 L536.2,382.06 L537,382.07 L537.8,382.08 L538.6,382.1 L539.4,382.11 L540.2,382.13 L541,382.14 L541.8,382.16 L542.6,382.17 L543.4,382.18 L544.2,382.2 L545,382.21 L545.8,382.23 L546.6,382.24 L547.4,382.25 L548.2,382.27 L549,382.28 L549.8,382.3 L550.6,382.31 L551.4,382.32 L552.2,382.34 L553,382.35 L553.8,382.37 L554.6,382.38 L555.4,382.39 L556.2,382.41 L557,382.42 L557.8,382.44 L558.6,382.45 L559.4,382.46 L560.2,382.48 L561,382.49 L561.8,382.51 L562.6,382.52 L563.4,382.53 L564.2,382.55 L565,382.56 L565.8,382.58 L566.6,382.59 L567.4,382.6 L568.2,382.62 L569,382.63 L569.8,382.65 L570.6,382.66 L571.4,382.67 L572.2,382.69 L573,382.7 L573.8,382.72 L574.6,382.73 L575.4,382.74 L576.2,382.76 L577,382.77 L577.8,382.79 L578.6,382.8 L579.4,382.81 L580.2,382.83 L581,382.84 L581.8,382.86 L582.6,382.87 L583.4,382.88 L584.2,382.9 L585,382.91 L585.8,382.93 L586.6,382.94 L587.4,382.95 L588.2,382.97 L589,382.98 L589.8,383 L590.6,383.01 L591.4,383.02 L592.2,383.04 L593,383.05 L593.8,383.07 L594.6,383.08 L595.4,383.09 L596.2,383.11 L597,383.12 L597.8,383.14 L598.6,383.15 L599.4,383.16 L600.2,383.18 L601,383.19 L601.8,383.21 L602.6,383.22 L603.4,383.23 L604.2,383.25 L605,383.26 L605.8,383.28 L606.6,383.29 L607.4,383.3 L608.2,383.32 L609,383.33 L609.8,383.35 L610.6,383.36 L611.4,383.37 L612.2,383.39 L613,383.4 L613.8,383.42 L614.6,383.43 L615.4,383.44 L616.2,383.46 L617,383.47 L617.8,383.49 L618.6,383.5 L619.4,383.51 L620.2,383.53 L621,383.54 L621.8,383.56 L622.6,383.57 L623.4,383.58 L624.2,383.6 L625,383.61 L625.8,383.63 L626.6,383.64 L627.4,383.65 L628.2,383.67 L629,383.68 L629.8,383.7 L630.6,383.71 L631.4,383.72 L632.2,383.74 L633,383.75 L633.8,383.77 L634.6,383.78 L635.4,383.79 L636.2,383.81 L637,383.82 L637.8,383.84 L638.6,383.85 L639.4,383.86 L640.2,383.88 L641,383.89 L641.8,383.91 L642.6,383.92 L643.4,383.93 L644.2,383.95 L645,383.96 L645.8,383.98 L646.6,383.99 L647.4,384 L648.2,384.02 L649,384.03 L649.8,384.05 L650.6,384.06 L651.4,384.07 L652.2,384.09 L653,384.1 L653.8,384.12 L654.6,384.13 L655.4,384.14 L656.2,384.16 L657,384.17 L657.8,384.19 L658.6,384.2 L659.4,384.21 L660.2,384.23 L661,384.24 L661.8,384.26 L662.6,384.27 L663.4,384.28 L664.2,384.3 L665,384.31 L665.8,384.33 L666.6,384.34 L667.4,384.35 L668.2,384.37 L669,384.38 L669.8,384.4 L670.6,384.41 L671.4,384.42 L672.2,384.44 L673,384.45 L673.8,384.47 L674.6,384.48 L675.4,384.49 L676.2,384.51 L677,384.52 L677.8,384.54 L678.6,384.55 L679.4,384.56 L680.2,384.58 L681,384.59 L681.8,384.61 L682.6,384.62 L683.4,384.63 L684.2,384.65" fill="none" stroke="#4444ee" stroke-width="1.3" stroke-linejoin="round" stroke-linecap="butt" stroke-dasharray="1.3,1.5"/>
<path d="M378.6,379.3 L379.4,379.31 L380.2,379.33 L381,379.34 L381.8,379.36 L382.6,379.37 L383.4,379.38 L384.2,379.4 L385,379.41 L385.8,379.43 L386.6,379.44 L387.4,379.45 L388.2,379.47 L389,379.48 L389.8,379.5 L390.6,379.51 L391.4,379.52 L392.2,379.54 L393,379.55 L393.8,379.57 L394.6,379.58 L395.4,379.59 L396.2,379.61 L397,379.62 L397.8,379.64 L398.6,379.65 L399.4,379.66 L400.2,379.68 L401,379.69 L401.8,379.71 L402.6,379.72 L403.4,379.73 L404.2,379.75 L405,379.76 L405.8,379.78 L406.6,379.79 L407.4,379.8 L408.2,379.82 L409,379.83 L409.8,379.85 L410.6,379.86 L411.4,379.87 L412.2,379.89 L413,379.9 L413.8,379.92 L414.6,379.93 L415.4,379.94 L416.2,379.96 L417,379.97 L417.8,379.99 L418.6,380 L419.4,380.01 L420.2,380.03 L421,380.04 L421.8,380.06 L422.6,380.07 L423.4,380.08 L424.2,380.1 L425,380.11 L425.8,380.13 L426.6,380.14 L427.4,380.15 L428.2,380.17 L429,380.18 L429.8,380.2 L430.6,380.21 L431.4,380.22 L432.2,380.24 L433,380.25 L433.8,380.27 L434.6,380.28 L435.4,380.29 L436.2,380.31 L437,380.32 L437.8,380.34 L438.6,380.35 L439.4,380.36 L440.2,380.38 L441,380.39 L441.8,380.4 L442.6,380.42 L443.4,380.43 L444.2,380.45 L445,380.46 L445.8,380.47 L446.6,380.48 L447.4,380.5 L448.2,380.51 L449,380.52 L449.8,380.53 L450.6,380.54 L451.4,380.55 L452.2,380.56 L453,380.57 L453.8,380.57 L454.6,380.57 L455.4,380.58 L456.2,380.57 L457,380.57 L457.8,380.56 L458.6,380.55 L459.4,380.53 L460.2,380.5 L461,380.47 L461.8,380.43 L462.6,380.38 L463.4,380.33 L464.2,380.25 L465,380.17 L465.8,380.07 L466.6,379.95 L467.4,379.82 L468.2,379.66 L469,379.48 L469.8,379.28 L470.6,379.05 L471.4,378.79 L472.2,378.5 L473,378.18 L473.8,377.82 L474.6,377.42 L475.4,376.99 L476.2,376.51 L477,376 L477.8,375.44 L478.6,374.84 L479.4,374.2 L480.2,373.52 L481,372.8 L481.8,372.04 L482.6,371.25 L483.4,370.42 L484.2,369.57 L485,368.69 L485.8,367.79 L486.6,366.88 L487.4,365.96 L488.2,365.04 L489,364.12 L489.8,363.22 L490.6,362.34 L491.4,361.48 L492.2,360.67 L493,359.9 L493.8,359.18 L494.6,358.52 L495.4,357.92 L496.2,357.4 L497,356.96 L497.8,356.59 L498.6,356.32 L499.4,356.14 L500.2,356.05 L501,356.05 L501.8,356.15 L502.6,356.35 L503.4,356.65 L504.2,357.04 L505,357.52 L505.8,358.08 L506.6,358.72 L507.4,359.43 L508.2,360.21 L509,361.04 L509.8,361.92 L510.6,362.83 L511.4,363.77 L512.2,364.74 L513,365.71 L513.8,366.7 L514.6,367.67 L515.4,368.64 L516.2,369.59 L517,370.52 L517.8,371.42 L518.6,372.28 L519.4,373.11 L520.2,373.91 L521,374.66 L521.8,375.36 L522.6,376.02 L523.4,376.64 L524.2,377.21 L525,377.74 L525.8,378.23 L526.6,378.67 L527.4,379.08 L528.2,379.45 L529,379.78 L529.8,380.08 L530.6,380.34 L531.4,380.58 L532.2,380.79 L533,380.98 L533.8,381.15 L534.6,381.29 L535.4,381.42 L536.2,381.53 L537,381.63 L537.8,381.72 L538.6,381.8 L539.4,381.86 L540.2,381.92 L541,381.97 L541.8,382.02 L542.6,382.06 L543.4,382.09 L544.2,382.12 L545,382.15 L545.8,382.18 L546.6,382.2 L547.4,382.22 L548.2,382.24 L549,382.26 L549.8,382.28 L550.6,382.3 L551.4,382.31 L552.2,382.33 L553,382.35 L553.8,382.36 L554.6,382.38 L555.4,382.39 L556.2,382.41 L557,382.42 L557.8,382.43 L558.6,382.45 L559.4,382.46 L560.2,382.48 L561,382.49 L561.8,382.51 L562.6,382.52 L563.4,382.53 L564.2,382.55 L565,382.56 L565.8,382.58 L566.6,382.59 L567.4,382.6 L568.2,382.62 L569,382.63 L569.8,382.65 L570.6,382.66 L571.4,382.67 L572.2,382.69 L573,382.7 L573.8,382.72 L574.6,382.73 L575.4,382.74 L576.2,382.76 L577,382.77 L577.8,382.79 L578.6,382.8 L579.4,382.81 L580.2,382.83 L581,382.84 L581.8,382.86 L582.6,382.87 L583.4,382.88 L584.2,382.9 L585,382.91 L585.8,382.93 L586.6,382.94 L587.4,382.95 L588.2,382.97 L589,382.98 L589.8,383 L590.6,383.01 L591.4,383.02 L592.2,383.04 L593,383.05 L593.8,383.07 L594.6,383.08 L595.4,383.09 L596.2,383.11 L597,383.12 L597.8,383.14 L598.6,383.15 L599.4,383.16 L600.2,383.18 L601,383.19 L601.8,383.21 L602.6,383.22 L603.4,383.23 L604.2,383.25 L605,383.26 L605.8,383.28 L606.6,383.29 L607.4,383.3 L608.2,383.32 L609,383.33 L609.8,383.35 L610.6,383.36 L611.4,383.37 L612.2,383.39 L613,383.4 L613.8,383.42 L614.6,383.43 L615.4,383.44 L616.2,383.46 L617,383.47 L617.8,383.49 L618.6,383.5 L619.4,383.51 L620.2,383.53 L621,383.54 L621.8,383.56 L622.6,383.57 L623.4,383.58 L624.2,383.6 L625,383.61 L625.8,383.63 L626.6,383.64 L627.4,383.65 L628.2,383.67 L629,383.68 L629.8,383.7 L630.6,383.71 L631.4,383.72 L632.2,383.74 L633,383.75 L633.8,383.77 L634.6,383.78 L635.4,383.79 L636.2,383.81 L637,383.82 L637.8,383.84 L638.6,383.85 L639.4,383.86 L640.2,383.88 L641,383.89 L641.8,383.91 L642.6,383.92 L643.4,383.93 L644.2,383.95 L645,383.96 L645.8,383.98 L646.6,383.99 L647.4,384 L648.2,384.02 L649,384.03 L649.8,384.05 L650.6,384.06 L651.4,384.07 L652.2,384.09 L653,384.1 L653.8,384.12 L654.6,384.13 L655.4,384.14 L656.2,384.16 L657,384.17 L657.8,384.19 L658.6,384.2 L659.4,384.21 L660.2,384.23 L661,384.24 L661.8,384.26 L662.6,384.27 L663.4,384.28 L664.2,384.3 L665,384.31 L665.8,384.33 L666.6,384.34 L667.4,384.35 L668.2,384.37 L669,384.38 L669.8,384.4 L670.6,384.41 L671.4,384.42 L672.2,384.44 L673,384.45 L673.8,384.47 L674.6,384.48 L675.4,384.49 L676.2,384.51 L677,384.52 L677.8,384.54 L678.6,384.55 L679.4,384.56 L680.2,384.58 L681,384.59 L681.8,384.61 L682.6,384.62 L683.4,384.63 L684.2,384.65" fill="none" stroke="#a8a850" stroke-width="1.3" stroke-linejoin="round" stroke-linecap="butt" stroke-dasharray="1.3,1.5"/>
<path d="M378.6,378.98 L379.4,378.99 L380.2,378.99 L381,378.99 L381.8,379 L382.6,379 L383.4,379 L384.2,379.01 L385,379.01 L385.8,379.01 L386.6,379.02 L387.4,379.02 L388.2,379.02 L389,379.02 L389.8,379.02 L390.6,379.03 L391.4,379.03 L392.2,379.03 L393,379.03 L393.8,379.03 L394.6,379.03 L395.4,379.03 L396.2,379.03 L397,379.03 L397.8,379.03 L398.6,379.02 L399.4,379.02 L400.2,379.02 L401,379.02 L401.8,379.02 L402.6,379.01 L403.4,379.01 L404.2,379.01 L405,379.01 L405.8,379 L406.6,379 L407.4,378.99 L408.2,378.99 L409,378.98 L409.8,378.98 L410.6,378.97 L411.4,378.97 L412.2,378.96 L413,378.96 L413.8,378.95 L414.6,378.94 L415.4,378.93 L416.2,378.93 L417,378.92 L417.8,378.91 L418.6,378.9 L419.4,378.89 L420.2,378.88 L421,378.87 L421.8,378.86 L422.6,378.85 L423.4,378.84 L424.2,378.83 L425,378.82 L425.8,378.81 L426.6,378.8 L427.4,378.78 L428.2,378.77 L429,378.76 L429.8,378.74 L430.6,378.73 L431.4,378.71 L432.2,378.7 L433,378.68 L433.8,378.67 L434.6,378.65 L435.4,378.64 L436.2,378.62 L437,378.6 L437.8,378.58 L438.6,378.56 L439.4,378.54 L440.2,378.53 L441,378.51 L441.8,378.48 L442.6,378.46 L443.4,378.44 L444.2,378.42 L445,378.4 L445.8,378.37 L446.6,378.35 L447.4,378.33 L448.2,378.3 L449,378.28 L449.8,378.25 L450.6,378.22 L451.4,378.2 L452.2,378.17 L453,378.14 L453.8,378.11 L454.6,378.08 L455.4,378.05 L456.2,378.02 L457,377.99 L457.8,377.96 L458.6,377.92 L459.4,377.89 L460.2,377.85 L461,377.82 L461.8,377.78 L462.6,377.75 L463.4,377.71 L464.2,377.67 L465,377.63 L465.8,377.59 L466.6,377.55 L467.4,377.5 L468.2,377.46 L469,377.41 L469.8,377.37 L470.6,377.32 L471.4,377.27 L472.2,377.23 L473,377.18 L473.8,377.12 L474.6,377.07 L475.4,377.02 L476.2,376.96 L477,376.91 L477.8,376.85 L478.6,376.79 L479.4,376.73 L480.2,376.67 L481,376.6 L481.8,376.54 L482.6,376.47 L483.4,376.4 L484.2,376.33 L485,376.26 L485.8,376.19 L486.6,376.11 L487.4,376.04 L488.2,375.96 L489,375.88 L489.8,375.79 L490.6,375.71 L491.4,375.62 L492.2,375.53 L493,375.43 L493.8,375.34 L494.6,375.24 L495.4,375.14 L496.2,375.04 L497,374.93 L497.8,374.82 L498.6,374.71 L499.4,374.59 L500.2,374.47 L501,374.35 L501.8,374.22 L502.6,374.09 L503.4,373.96 L504.2,373.82 L505,373.68 L505.8,373.53 L506.6,373.38 L507.4,373.22 L508.2,373.06 L509,372.89 L509.8,372.72 L510.6,372.54 L511.4,372.36 L512.2,372.17 L513,371.98 L513.8,371.78 L514.6,371.57 L515.4,371.36 L516.2,371.14 L517,370.91 L517.8,370.67 L518.6,370.43 L519.4,370.17 L520.2,369.91 L521,369.64 L521.8,369.37 L522.6,369.08 L523.4,368.78 L524.2,368.47 L525,368.16 L525.8,367.83 L526.6,367.49 L527.4,367.14 L528.2,366.77 L529,366.4 L529.8,366.01 L530.6,365.61 L531.4,365.2 L532.2,364.77 L533,364.33 L533.8,363.88 L534.6,363.41 L535.4,362.92 L536.2,362.42 L537,361.91 L537.8,361.38 L538.6,360.83 L539.4,360.26 L540.2,359.68 L541,359.08 L541.8,358.46 L542.6,357.82 L543.4,357.17 L544.2,356.5 L545,355.8 L545.8,355.09 L546.6,354.36 L547.4,353.61 L548.2,352.84 L549,352.05 L549.8,351.24 L550.6,350.42 L551.4,349.57 L552.2,348.71 L553,347.83 L553.8,346.93 L554.6,346.02 L555.4,345.09 L556.2,344.14 L557,343.19 L557.8,342.22 L558.6,341.24 L559.4,340.26 L560.2,339.27 L561,338.27 L561.8,337.28 L562.6,336.28 L563.4,335.29 L564.2,334.31 L565,333.34 L565.8,332.39 L566.6,331.45 L567.4,330.54 L568.2,329.65 L569,328.8 L569.8,327.98 L570.6,327.21 L571.4,326.48 L572.2,325.79 L573,325.17 L573.8,324.6 L574.6,324.09 L575.4,323.65 L576.2,323.28 L577,322.98 L577.8,322.75 L578.6,322.6 L579.4,322.53 L580.2,322.54 L581,322.65 L581.8,322.87 L582.6,323.2 L583.4,323.63 L584.2,324.17 L585,324.82 L585.8,325.56 L586.6,326.39 L587.4,327.32 L588.2,328.33 L589,329.43 L589.8,330.59 L590.6,331.83 L591.4,333.13 L592.2,334.48 L593,335.89 L593.8,337.34 L594.6,338.83 L595.4,340.35 L596.2,341.89 L597,343.45 L597.8,345.03 L598.6,346.61 L599.4,348.18 L600.2,349.76 L601,351.32 L601.8,352.87 L602.6,354.39 L603.4,355.89 L604.2,357.36 L605,358.8 L605.8,360.2 L606.6,361.57 L607.4,362.89 L608.2,364.17 L609,365.4 L609.8,366.59 L610.6,367.72 L611.4,368.81 L612.2,369.85 L613,370.84 L613.8,371.79 L614.6,372.68 L615.4,373.52 L616.2,374.32 L617,375.07 L617.8,375.78 L618.6,376.44 L619.4,377.06 L620.2,377.64 L621,378.18 L621.8,378.68 L622.6,379.14 L623.4,379.57 L624.2,379.97 L625,380.34 L625.8,380.68 L626.6,380.99 L627.4,381.27 L628.2,381.53 L629,381.77 L629.8,381.99 L630.6,382.19 L631.4,382.37 L632.2,382.54 L633,382.69 L633.8,382.83 L634.6,382.95 L635.4,383.06 L636.2,383.16 L637,383.26 L637.8,383.34 L638.6,383.42 L639.4,383.49 L640.2,383.55 L641,383.6 L641.8,383.66 L642.6,383.7 L643.4,383.75 L644.2,383.79 L645,383.82 L645.8,383.86 L646.6,383.89 L647.4,383.92 L648.2,383.94 L649,383.97 L649.8,383.99 L650.6,384.01 L651.4,384.03 L652.2,384.05 L653,384.07 L653.8,384.09 L654.6,384.11 L655.4,384.13 L656.2,384.14 L657,384.16 L657.8,384.18 L658.6,384.19 L659.4,384.21 L660.2,384.22 L661,384.24 L661.8,384.25 L662.6,384.27 L663.4,384.28 L664.2,384.3 L665,384.31 L665.8,384.32 L666.6,384.34 L667.4,384.35 L668.2,384.37 L669,384.38 L669.8,384.4 L670.6,384.41 L671.4,384.42 L672.2,384.44 L673,384.45 L673.8,384.47 L674.6,384.48 L675.4,384.49 L676.2,384.51 L677,384.52 L677.8,384.54 L678.6,384.55 L679.4,384.56 L680.2,384.58 L681,384.59 L681.8,384.61 L682.6,384.62 L683.4,384.63 L684.2,384.65" fill="none" stroke="#ff4848" stroke-width="1.3" stroke-linejoin="round" stroke-linecap="butt" stroke-dasharray="1.3,1.5"/>
<path d="M378.6,379.12 L379.4,379.12 L380.2,379.13 L381,379.13 L381.8,379.13 L382.6,379.14 L383.4,379.14 L384.2,379.14 L385,379.14 L385.8,379.14 L386.6,379.14 L387.4,379.14 L388.2,379.14 L389,379.14 L389.8,379.14 L390.6,379.14 L391.4,379.14 L392.2,379.14 L393,379.13 L393.8,379.13 L394.6,379.13 L395.4,379.12 L396.2,379.12 L397,379.11 L397.8,379.1 L398.6,379.1 L399.4,379.09 L400.2,379.08 L401,379.07 L401.8,379.07 L402.6,379.06 L403.4,379.05 L404.2,379.03 L405,379.02 L405.8,379.01 L406.6,379 L407.4,378.98 L408.2,378.97 L409,378.96 L409.8,378.94 L410.6,378.92 L411.4,378.91 L412.2,378.89 L413,378.87 L413.8,378.85 L414.6,378.83 L415.4,378.81 L416.2,378.79 L417,378.77 L417.8,378.75 L418.6,378.72 L419.4,378.7 L420.2,378.67 L421,378.65 L421.8,378.62 L422.6,378.59 L423.4,378.56 L424.2,378.53 L425,378.5 L425.8,378.47 L426.6,378.44 L427.4,378.4 L428.2,378.37 L429,378.33 L429.8,378.29 L430.6,378.25 L431.4,378.22 L432.2,378.17 L433,378.13 L433.8,378.09 L434.6,378.04 L435.4,378 L436.2,377.95 L437,377.9 L437.8,377.85 L438.6,377.8 L439.4,377.75 L440.2,377.69 L441,377.64 L441.8,377.58 L442.6,377.52 L443.4,377.46 L444.2,377.39 L445,377.33 L445.8,377.26 L446.6,377.19 L447.4,377.12 L448.2,377.04 L449,376.96 L449.8,376.88 L450.6,376.8 L451.4,376.72 L452.2,376.63 L453,376.54 L453.8,376.44 L454.6,376.35 L455.4,376.25 L456.2,376.14 L457,376.03 L457.8,375.92 L458.6,375.81 L459.4,375.68 L460.2,375.56 L461,375.43 L461.8,375.29 L462.6,375.15 L463.4,375 L464.2,374.85 L465,374.69 L465.8,374.53 L466.6,374.35 L467.4,374.17 L468.2,373.98 L469,373.78 L469.8,373.57 L470.6,373.36 L471.4,373.13 L472.2,372.89 L473,372.64 L473.8,372.38 L474.6,372.1 L475.4,371.81 L476.2,371.51 L477,371.19 L477.8,370.85 L478.6,370.5 L479.4,370.13 L480.2,369.73 L481,369.32 L481.8,368.89 L482.6,368.43 L483.4,367.95 L484.2,367.44 L485,366.91 L485.8,366.35 L486.6,365.76 L487.4,365.14 L488.2,364.49 L489,363.8 L489.8,363.09 L490.6,362.33 L491.4,361.54 L492.2,360.71 L493,359.84 L493.8,358.94 L494.6,357.99 L495.4,356.99 L496.2,355.96 L497,354.88 L497.8,353.75 L498.6,352.59 L499.4,351.37 L500.2,350.12 L501,348.82 L501.8,347.48 L502.6,346.09 L503.4,344.67 L504.2,343.22 L505,341.74 L505.8,340.23 L506.6,338.7 L507.4,337.15 L508.2,335.6 L509,334.06 L509.8,332.53 L510.6,331.02 L511.4,329.56 L512.2,328.14 L513,326.8 L513.8,325.53 L514.6,324.37 L515.4,323.31 L516.2,322.39 L517,321.6 L517.8,320.97 L518.6,320.5 L519.4,320.2 L520.2,320.08 L521,320.17 L521.8,320.52 L522.6,321.14 L523.4,322.01 L524.2,323.14 L525,324.49 L525.8,326.06 L526.6,327.83 L527.4,329.77 L528.2,331.86 L529,334.08 L529.8,336.41 L530.6,338.81 L531.4,341.27 L532.2,343.76 L533,346.25 L533.8,348.73 L534.6,351.18 L535.4,353.57 L536.2,355.9 L537,358.14 L537.8,360.29 L538.6,362.34 L539.4,364.28 L540.2,366.1 L541,367.8 L541.8,369.37 L542.6,370.83 L543.4,372.17 L544.2,373.39 L545,374.51 L545.8,375.51 L546.6,376.41 L547.4,377.22 L548.2,377.94 L549,378.57 L549.8,379.13 L550.6,379.63 L551.4,380.06 L552.2,380.43 L553,380.75 L553.8,381.03 L554.6,381.27 L555.4,381.48 L556.2,381.65 L557,381.8 L557.8,381.93 L558.6,382.04 L559.4,382.13 L560.2,382.21 L561,382.28 L561.8,382.34 L562.6,382.38 L563.4,382.43 L564.2,382.46 L565,382.5 L565.8,382.52 L566.6,382.55 L567.4,382.57 L568.2,382.59 L569,382.61 L569.8,382.63 L570.6,382.65 L571.4,382.67 L572.2,382.68 L573,382.7 L573.8,382.71 L574.6,382.73 L575.4,382.74 L576.2,382.76 L577,382.77 L577.8,382.79 L578.6,382.8 L579.4,382.81 L580.2,382.83 L581,382.84 L581.8,382.86 L582.6,382.87 L583.4,382.88 L584.2,382.9 L585,382.91 L585.8,382.93 L586.6,382.94 L587.4,382.95 L588.2,382.97 L589,382.98 L589.8,383 L590.6,383.01 L591.4,383.02 L592.2,383.04 L593,383.05 L593.8,383.07 L594.6,383.08 L595.4,383.09 L596.2,383.11 L597,383.12 L597.8,383.14 L598.6,383.15 L599.4,383.16 L600.2,383.18 L601,383.19 L601.8,383.21 L602.6,383.22 L603.4,383.23 L604.2,383.25 L605,383.26 L605.8,383.28 L606.6,383.29 L607.4,383.3 L608.2,383.32 L609,383.33 L609.8,383.35 L610.6,383.36 L611.4,383.37 L612.2,383.39 L613,383.4 L613.8,383.42 L614.6,383.43 L615.4,383.44 L616.2,383.46 L617,383.47 L617.8,383.49 L618.6,383.5 L619.4,383.51 L620.2,383.53 L621,383.54 L621.8,383.56 L622.6,383.57 L623.4,383.58 L624.2,383.6 L625,383.61 L625.8,383.63 L626.6,383.64 L627.4,383.65 L628.2,383.67 L629,383.68 L629.8,383.7 L630.6,383.71 L631.4,383.72 L632.2,383.74 L633,383.75 L633.8,383.77 L634.6,383.78 L635.4,383.79 L636.2,383.81 L637,383.82 L637.8,383.84 L638.6,383.85 L639.4,383.86 L640.2,383.88 L641,383.89 L641.8,383.91 L642.6,383.92 L643.4,383.93 L644.2,383.95 L645,383.96 L645.8,383.98 L646.6,383.99 L647.4,384 L648.2,384.02 L649,384.03 L649.8,384.05 L650.6,384.06 L651.4,384.07 L652.2,384.09 L653,384.1 L653.8,384.12 L654.6,384.13 L655.4,384.14 L656.2,384.16 L657,384.17 L657.8,384.19 L658.6,384.2 L659.4,384.21 L660.2,384.23 L661,384.24 L661.8,384.26 L662.6,384.27 L663.4,384.28 L664.2,384.3 L665,384.31 L665.8,384.33 L666.6,384.34 L667.4,384.35 L668.2,384.37 L669,384.38 L669.8,384.4 L670.6,384.41 L671.4,384.42 L672.2,384.44 L673,384.45 L673.8,384.47 L674.6,384.48 L675.4,384.49 L676.2,384.51 L677,384.52 L677.8,384.54 L678.6,384.55 L679.4,384.56 L680.2,384.58 L681,384.59 L681.8,384.61 L682.6,384.62 L683.4,384.63 L684.2,384.65" fill="none" stroke="#ff44ff" stroke-width="1.3" stroke-linejoin="round" stroke-linecap="butt" stroke-dasharray="1.3,1.5"/>
<path d="M379.2,379.8 L379.63,379.79 L380.14,379.78 L380.72,379.77 L381.36,379.76 L382.06,379.75 L382.81,379.74 L383.61,379.72 L384.44,379.71 L385.3,379.69 L386.19,379.68 L387.09,379.66 L388,379.64 L388.92,379.63 L389.84,379.61 L390.74,379.59 L391.63,379.58 L392.5,379.56 L393.33,379.55 L394.13,379.53 L394.89,379.51 L395.6,379.5 L396.49,379.48 L397.36,379.47 L398.21,379.45 L399.05,379.43 L399.87,379.42 L400.68,379.41 L401.47,379.39 L402.24,379.38 L402.99,379.36 L403.73,379.34 L404.45,379.32 L405.16,379.3 L405.84,379.28 L406.51,379.26 L407.17,379.23 L407.8,379.2 L408.76,379.15 L409.66,379.09 L410.49,379.03 L411.28,378.97 L412.04,378.9 L412.76,378.83 L413.47,378.75 L414.17,378.67 L414.88,378.59 L415.6,378.5 L416.4,378.4 L417.17,378.28 L417.92,378.16 L418.66,378.04 L419.4,377.91 L420.13,377.78 L420.87,377.65 L421.63,377.52 L422.4,377.4 L423.11,377.29 L423.83,377.19 L424.55,377.09 L425.28,376.99 L426.02,376.89 L426.76,376.79 L427.49,376.68 L428.23,376.56 L428.97,376.44 L429.7,376.3 L430.43,376.15 L431.16,376 L431.89,375.85 L432.62,375.68 L433.35,375.51 L434.08,375.33 L434.81,375.14 L435.54,374.94 L436.27,374.73 L437,374.5 L437.73,374.25 L438.46,373.99 L439.19,373.71 L439.92,373.42 L440.65,373.12 L441.38,372.81 L442.11,372.5 L442.84,372.2 L443.57,371.89 L444.3,371.6 L445.03,371.31 L445.76,371.03 L446.49,370.76 L447.22,370.48 L447.95,370.2 L448.68,369.92 L449.41,369.63 L450.14,369.33 L450.87,369.02 L451.6,368.7 L452.33,368.36 L453.06,368 L453.79,367.62 L454.52,367.24 L455.25,366.85 L455.98,366.46 L456.71,366.08 L457.44,365.7 L458.17,365.34 L458.9,365 L459.64,364.68 L460.38,364.37 L461.14,364.07 L461.89,363.78 L462.64,363.5 L463.39,363.22 L464.12,362.94 L464.84,362.67 L465.53,362.39 L466.2,362.1 L466.99,361.74 L467.74,361.39 L468.45,361.05 L469.14,360.7 L469.83,360.35 L470.53,359.98 L471.25,359.6 L472,359.2 L472.71,358.83 L473.44,358.44 L474.2,358.05 L474.97,357.65 L475.73,357.24 L476.49,356.81 L477.23,356.38 L477.93,355.95 L478.6,355.5 L479.39,354.93 L480.13,354.38 L480.82,353.82 L481.5,353.23 L482.17,352.59 L482.87,351.89 L483.6,351.1 L484.28,350.32 L485,349.47 L485.73,348.56 L486.47,347.61 L487.2,346.64 L487.91,345.67 L488.58,344.72 L489.2,343.8 L490.09,342.4 L490.9,341.03 L491.64,339.66 L492.37,338.27 L493.1,336.8 L493.83,335.26 L494.55,333.65 L495.25,332.01 L495.97,330.36 L496.7,328.7 L497.47,327.02 L498.25,325.3 L499.05,323.59 L499.83,321.91 L500.6,320.3 L501.35,318.75 L502.1,317.24 L502.82,315.78 L503.53,314.39 L504.2,313.1 L504.98,311.62 L505.71,310.28 L506.41,309.04 L507.1,307.9 L507.78,306.87 L508.43,305.95 L509.09,305.11 L509.8,304.3 L510.42,303.66 L511.08,303.03 L511.76,302.44 L512.44,301.93 L513.1,301.5 L513.74,301.17 L514.38,300.93 L515.02,300.76 L515.66,300.65 L516.3,300.6 L516.96,300.6 L517.62,300.66 L518.28,300.77 L518.94,300.95 L519.6,301.2 L520.25,301.5 L520.91,301.85 L521.55,302.27 L522.19,302.78 L522.83,303.4 L523.65,304.33 L524.43,305.43 L525.21,306.65 L526,308 L526.81,309.49 L527.64,311.12 L528.46,312.84 L529.29,314.6 L530.03,316.41 L530.76,318.29 L531.49,320.2 L532.2,322.1 L532.89,324 L533.57,325.92 L534.24,327.8 L534.9,329.6 L535.55,331.31 L536.19,332.97 L536.81,334.54 L537.4,336 L538.1,337.76 L538.76,339.33 L539.49,340.8 L540.1,341.86 L540.76,342.87 L541.44,343.79 L542.1,344.6 L542.73,345.28 L543.35,345.84 L543.95,346.31 L544.53,346.7 L545.25,347.09 L545.92,347.33 L546.6,347.5 L547.35,347.64 L548.1,347.71 L548.9,347.6 L549.54,347.37 L550.21,347.04 L550.89,346.62 L551.6,346.1 L552.32,345.47 L553.05,344.73 L553.81,343.93 L554.6,343.1 L555.26,342.42 L555.95,341.72 L556.66,340.99 L557.38,340.25 L558.1,339.5 L558.83,338.73 L559.58,337.93 L560.34,337.13 L561.08,336.35 L561.8,335.6 L562.49,334.9 L563.16,334.22 L563.82,333.57 L564.47,332.93 L565.1,332.3 L565.86,331.53 L566.6,330.78 L567.34,330.04 L568.1,329.3 L568.74,328.69 L569.41,328.07 L570.08,327.46 L570.75,326.86 L571.4,326.3 L572.21,325.62 L573.02,324.98 L573.8,324.39 L574.5,323.9 L575.27,323.44 L575.94,323.14 L576.6,322.9 L577.28,322.7 L577.96,322.57 L578.7,322.5 L579.34,322.49 L580.02,322.51 L580.72,322.58 L581.4,322.7 L582.06,322.87 L582.71,323.1 L583.35,323.37 L584,323.7 L584.65,324.07 L585.29,324.48 L586.02,324.95 L586.84,325.5 L587.64,326.09 L588.45,326.74 L589.28,327.49 L590.17,328.4 L590.95,329.29 L591.77,330.3 L592.61,331.4 L593.45,332.51 L594.25,333.6 L595.2,334.91 L596.12,336.23 L597.03,337.58 L597.96,339 L598.74,340.2 L599.47,341.45 L600.11,342.73 L600.76,344.02 L601.4,345.3 L602.2,346.9 L603.01,348.51 L603.81,350.11 L604.6,351.7 L605.38,353.28 L606.15,354.86 L606.92,356.41 L607.7,357.9 L608.33,359.04 L608.97,360.16 L609.61,361.24 L610.25,362.28 L610.9,363.3 L611.56,364.28 L612.22,365.23 L612.89,366.15 L613.55,367.04 L614.2,367.9 L614.99,368.94 L615.67,369.94 L616.31,370.89 L616.96,371.8 L617.61,372.67 L618.25,373.49 L618.9,374.27 L619.56,375 L620.2,375.68 L620.84,376.31 L621.51,376.91 L622.24,377.5 L622.76,377.89 L623.31,378.28 L623.89,378.66 L624.48,379.02 L625.07,379.37 L625.67,379.7 L626.26,380.01 L626.86,380.3 L627.46,380.57 L628.07,380.83 L628.72,381.07 L629.5,381.3 L630.19,381.48 L630.89,381.64 L631.62,381.8 L632.35,381.94 L633.09,382.07 L633.84,382.19 L634.6,382.3 L635.35,382.4 L636.08,382.48 L636.82,382.54 L637.58,382.6 L638.37,382.66 L639.21,382.73 L640.1,382.8 L640.76,382.86 L641.44,382.92 L642.14,382.98 L642.86,383.04 L643.61,383.1 L644.37,383.16 L645.15,383.22 L645.95,383.28 L646.76,383.34 L647.6,383.4 L648.31,383.45 L649.03,383.49 L649.76,383.53 L650.51,383.58 L651.27,383.62 L652.04,383.66 L652.83,383.7 L653.63,383.74 L654.45,383.78 L655.28,383.82 L656.13,383.86 L657,383.9 L657.7,383.93 L658.4,383.96 L659.1,383.98 L659.81,384.01 L660.52,384.04 L661.25,384.06 L661.98,384.09 L662.73,384.11 L663.5,384.14 L664.29,384.16 L665.1,384.19 L665.93,384.22 L666.79,384.24 L667.68,384.27 L668.6,384.3 L669.3,384.32 L670.05,384.35 L670.84,384.37 L671.68,384.4 L672.55,384.42 L673.44,384.45 L674.35,384.48 L675.27,384.51 L676.19,384.53 L677.12,384.56 L678.03,384.59 L678.93,384.62 L679.8,384.64 L680.64,384.67 L681.45,384.69 L682.21,384.71 L682.91,384.73 L683.57,384.75 L684.15,384.77 L684.67,384.79 L685.1,384.8" fill="none" stroke="#33e033" stroke-width="1.3" stroke-linejoin="round" stroke-linecap="round" />
<path d="M378.6,379.5 L379.03,379.49 L379.54,379.48 L380.12,379.47 L380.76,379.46 L381.46,379.45 L382.21,379.44 L383.01,379.42 L383.84,379.41 L384.7,379.39 L385.59,379.38 L386.49,379.36 L387.4,379.34 L388.32,379.33 L389.24,379.31 L390.14,379.29 L391.03,379.28 L391.9,379.26 L392.73,379.25 L393.53,379.23 L394.29,379.21 L395,379.2 L395.89,379.18 L396.76,379.17 L397.61,379.15 L398.45,379.13 L399.27,379.12 L400.08,379.11 L400.87,379.09 L401.64,379.07 L402.39,379.06 L403.13,379.04 L403.85,379.02 L404.56,379 L405.24,378.98 L405.91,378.96 L406.57,378.93 L407.2,378.9 L408.16,378.85 L409.06,378.79 L409.89,378.73 L410.68,378.67 L411.44,378.6 L412.16,378.53 L412.87,378.45 L413.57,378.37 L414.28,378.29 L415,378.2 L415.8,378.1 L416.57,377.98 L417.32,377.86 L418.06,377.74 L418.8,377.61 L419.53,377.48 L420.27,377.35 L421.03,377.22 L421.8,377.1 L422.51,376.99 L423.23,376.89 L423.95,376.79 L424.68,376.69 L425.42,376.59 L426.16,376.49 L426.89,376.38 L427.63,376.26 L428.37,376.14 L429.1,376 L429.83,375.85 L430.56,375.7 L431.29,375.55 L432.02,375.38 L432.75,375.21 L433.48,375.03 L434.21,374.84 L434.94,374.64 L435.67,374.43 L436.4,374.2 L437.13,373.95 L437.86,373.69 L438.59,373.41 L439.32,373.12 L440.05,372.82 L440.78,372.51 L441.51,372.2 L442.24,371.9 L442.97,371.59 L443.7,371.3 L444.43,371.01 L445.16,370.73 L445.89,370.46 L446.62,370.18 L447.35,369.9 L448.08,369.62 L448.81,369.33 L449.54,369.03 L450.27,368.72 L451,368.4 L451.73,368.06 L452.46,367.7 L453.19,367.32 L453.92,366.94 L454.65,366.55 L455.38,366.16 L456.11,365.78 L456.84,365.4 L457.57,365.04 L458.3,364.7 L459.04,364.38 L459.78,364.07 L460.54,363.77 L461.29,363.48 L462.04,363.2 L462.79,362.92 L463.52,362.64 L464.24,362.37 L464.93,362.09 L465.6,361.8 L466.39,361.44 L467.14,361.09 L467.85,360.75 L468.54,360.4 L469.23,360.05 L469.93,359.68 L470.65,359.3 L471.4,358.9 L472.11,358.53 L472.84,358.14 L473.6,357.75 L474.37,357.35 L475.13,356.94 L475.89,356.51 L476.63,356.08 L477.33,355.65 L478,355.2 L478.79,354.63 L479.53,354.08 L480.22,353.52 L480.9,352.93 L481.57,352.29 L482.27,351.59 L483,350.8 L483.68,350.02 L484.4,349.17 L485.13,348.26 L485.87,347.31 L486.6,346.34 L487.31,345.37 L487.98,344.42 L488.6,343.5 L489.49,342.1 L490.3,340.73 L491.04,339.36 L491.77,337.97 L492.5,336.5 L493.23,334.96 L493.95,333.35 L494.65,331.71 L495.37,330.06 L496.1,328.4 L496.87,326.72 L497.65,325 L498.45,323.29 L499.23,321.61 L500,320 L500.75,318.45 L501.5,316.94 L502.22,315.48 L502.93,314.09 L503.6,312.8 L504.38,311.32 L505.11,309.98 L505.81,308.74 L506.5,307.6 L507.18,306.57 L507.82,305.65 L508.49,304.81 L509.2,304 L509.82,303.36 L510.48,302.73 L511.16,302.14 L511.84,301.63 L512.5,301.2 L513.14,300.87 L513.78,300.63 L514.42,300.46 L515.06,300.35 L515.7,300.3 L516.36,300.3 L517.02,300.36 L517.68,300.47 L518.34,300.65 L519,300.9 L519.65,301.2 L520.31,301.55 L520.95,301.97 L521.59,302.48 L522.2,303.1 L522.93,304.03 L523.62,305.12 L524.3,306.35 L525,307.7 L525.72,309.19 L526.44,310.82 L527.17,312.54 L527.9,314.3 L528.63,316.11 L529.36,317.99 L530.09,319.9 L530.8,321.8 L531.49,323.7 L532.17,325.62 L532.84,327.5 L533.5,329.3 L534.15,331.01 L534.79,332.67 L535.41,334.24 L536,335.7 L536.7,337.46 L537.36,339.03 L538.1,340.5 L538.77,341.56 L539.51,342.57 L540.27,343.49 L541,344.3 L541.7,344.98 L542.39,345.54 L543.06,346.01 L543.7,346.4 L544.5,346.79 L545.25,347.03 L546,347.2 L546.75,347.34 L547.5,347.41 L548.3,347.3 L548.94,347.07 L549.61,346.74 L550.29,346.32 L551,345.8 L551.72,345.17 L552.45,344.43 L553.21,343.63 L554,342.8 L554.66,342.12 L555.35,341.42 L556.06,340.69 L556.78,339.95 L557.5,339.2 L558.23,338.43 L558.98,337.63 L559.74,336.83 L560.48,336.05 L561.2,335.3 L561.89,334.6 L562.56,333.92 L563.22,333.27 L563.87,332.63 L564.5,332 L565.26,331.23 L566,330.48 L566.74,329.74 L567.5,329 L568.14,328.39 L568.81,327.77 L569.48,327.16 L570.15,326.56 L570.8,326 L571.61,325.32 L572.42,324.68 L573.2,324.09 L573.9,323.6 L574.67,323.14 L575.34,322.84 L576,322.6 L576.68,322.4 L577.36,322.27 L578.1,322.2 L578.74,322.19 L579.42,322.21 L580.12,322.28 L580.8,322.4 L581.46,322.57 L582.11,322.8 L582.75,323.07 L583.4,323.4 L584.05,323.77 L584.69,324.18 L585.34,324.65 L586,325.2 L586.65,325.79 L587.31,326.44 L587.98,327.19 L588.7,328.1 L589.33,328.99 L589.99,330 L590.67,331.1 L591.35,332.21 L592,333.3 L592.77,334.61 L593.51,335.93 L594.24,337.28 L595,338.7 L595.63,339.9 L596.27,341.15 L596.91,342.43 L597.56,343.72 L598.2,345 L599,346.6 L599.81,348.21 L600.61,349.81 L601.4,351.4 L602.18,352.98 L602.95,354.56 L603.72,356.11 L604.5,357.6 L605.13,358.74 L605.77,359.86 L606.41,360.94 L607.05,361.98 L607.7,363 L608.36,363.98 L609.02,364.93 L609.69,365.85 L610.35,366.74 L611,367.6 L611.79,368.64 L612.56,369.64 L613.33,370.59 L614.1,371.5 L614.87,372.37 L615.64,373.19 L616.42,373.97 L617.2,374.7 L617.97,375.38 L618.74,376.01 L619.53,376.61 L620.4,377.2 L621.03,377.59 L621.69,377.98 L622.37,378.36 L623.08,378.72 L623.79,379.07 L624.5,379.4 L625.21,379.71 L625.92,380 L626.64,380.27 L627.37,380.53 L628.12,380.77 L628.9,381 L629.59,381.18 L630.29,381.34 L631.02,381.5 L631.75,381.64 L632.49,381.77 L633.24,381.89 L634,382 L634.75,382.1 L635.48,382.18 L636.22,382.24 L636.98,382.3 L637.77,382.36 L638.61,382.43 L639.5,382.5 L640.16,382.56 L640.84,382.62 L641.54,382.68 L642.26,382.74 L643.01,382.8 L643.77,382.86 L644.55,382.92 L645.35,382.98 L646.16,383.04 L647,383.1 L647.71,383.15 L648.43,383.19 L649.16,383.23 L649.91,383.28 L650.67,383.32 L651.44,383.36 L652.23,383.4 L653.03,383.44 L653.85,383.48 L654.68,383.52 L655.53,383.56 L656.4,383.6 L657.1,383.63 L657.8,383.66 L658.5,383.68 L659.21,383.71 L659.92,383.74 L660.65,383.76 L661.38,383.79 L662.13,383.81 L662.9,383.84 L663.69,383.86 L664.5,383.89 L665.33,383.92 L666.19,383.94 L667.08,383.97 L668,384 L668.7,384.02 L669.45,384.05 L670.24,384.07 L671.08,384.1 L671.95,384.12 L672.84,384.15 L673.75,384.18 L674.67,384.21 L675.59,384.23 L676.52,384.26 L677.43,384.29 L678.33,384.32 L679.2,384.34 L680.04,384.37 L680.85,384.39 L681.61,384.41 L682.31,384.43 L682.97,384.45 L683.55,384.47 L684.07,384.49 L684.5,384.5" fill="none" stroke="#1c1c1c" stroke-width="1" stroke-linejoin="round" stroke-linecap="round" />
<path d="M378.6,484 L379.4,484.01 L380.2,484.01 L381,484.02 L381.8,484.02 L382.6,484.03 L383.4,484.03 L384.2,484.04 L385,484.04 L385.8,484.05 L386.6,484.05 L387.4,484.06 L388.2,484.06 L389,484.07 L389.8,484.07 L390.6,484.08 L391.4,484.08 L392.2,484.09 L393,484.09 L393.8,484.1 L394.6,484.1 L395.4,484.11 L396.2,484.11 L397,484.12 L397.8,484.12 L398.6,484.13 L399.4,484.13 L400.2,484.14 L401,484.14 L401.8,484.15 L402.6,484.15 L403.4,484.16 L404.2,484.16 L405,484.17 L405.8,484.17 L406.6,484.18 L407.4,484.18 L408.2,484.19 L409,484.19 L409.8,484.2 L410.6,484.2 L411.4,484.21 L412.2,484.22 L413,484.22 L413.8,484.23 L414.6,484.23 L415.4,484.24 L416.2,484.24 L417,484.25 L417.8,484.25 L418.6,484.26 L419.4,484.26 L420.2,484.27 L421,484.27 L421.8,484.28 L422.6,484.28 L423.4,484.29 L424.2,484.29 L425,484.3 L425.8,484.3 L426.6,484.31 L427.4,484.31 L428.2,484.32 L429,484.32 L429.8,484.33 L430.6,484.33 L431.4,484.34 L432.2,484.34 L433,484.35 L433.8,484.35 L434.6,484.36 L435.4,484.36 L436.2,484.37 L437,484.37 L437.8,484.38 L438.6,484.38 L439.4,484.39 L440.2,484.39 L441,484.4 L441.8,484.4 L442.6,484.41 L443.4,484.41 L444.2,484.42 L445,484.42 L445.8,484.43 L446.6,484.44 L447.4,484.44 L448.2,484.45 L449,484.45 L449.8,484.46 L450.6,484.46 L451.4,484.47 L452.2,484.47 L453,484.48 L453.8,484.48 L454.6,484.49 L455.4,484.49 L456.2,484.5 L457,484.5 L457.8,484.51 L458.6,484.51 L459.4,484.52 L460.2,484.52 L461,484.53 L461.8,484.53 L462.6,484.54 L463.4,484.54 L464.2,484.55 L465,484.55 L465.8,484.56 L466.6,484.56 L467.4,484.57 L468.2,484.57 L469,484.58 L469.8,484.58 L470.6,484.59 L471.4,484.59 L472.2,484.6 L473,484.6 L473.8,484.61 L474.6,484.61 L475.4,484.62 L476.2,484.62 L477,484.63 L477.8,484.63 L478.6,484.64 L479.4,484.65 L480.2,484.65 L481,484.66 L481.8,484.66 L482.6,484.67 L483.4,484.67 L484.2,484.68 L485,484.68 L485.8,484.69 L486.6,484.69 L487.4,484.7 L488.2,484.7 L489,484.71 L489.8,484.71 L490.6,484.72 L491.4,484.72 L492.2,484.73 L493,484.73 L493.8,484.74 L494.6,484.74 L495.4,484.75 L496.2,484.75 L497,484.76 L497.8,484.76 L498.6,484.77 L499.4,484.77 L500.2,484.78 L501,484.78 L501.8,484.79 L502.6,484.79 L503.4,484.8 L504.2,484.8 L505,484.81 L505.8,484.81 L506.6,484.82 L507.4,484.82 L508.2,484.83 L509,484.83 L509.8,484.84 L510.6,484.84 L511.4,484.85 L512.2,484.86 L513,484.86 L513.8,484.87 L514.6,484.87 L515.4,484.88 L516.2,484.88 L517,484.89 L517.8,484.89 L518.6,484.9 L519.4,484.9 L520.2,484.91 L521,484.91 L521.8,484.92 L522.6,484.92 L523.4,484.93 L524.2,484.93 L525,484.94 L525.8,484.94 L526.6,484.95 L527.4,484.95 L528.2,484.96 L529,484.96 L529.8,484.97 L530.6,484.98 L531.4,484.98 L532.2,484.99 L533,484.99 L533.8,485 L534.6,485 L535.4,485.01 L536.2,485.02 L537,485.02 L537.8,485.03 L538.6,485.04 L539.4,485.05 L540.2,485.05 L541,485.06 L541.8,485.07 L542.6,485.08 L543.4,485.09 L544.2,485.1 L545,485.12 L545.8,485.13 L546.6,485.15 L547.4,485.16 L548.2,485.18 L549,485.2 L549.8,485.23 L550.6,485.25 L551.4,485.28 L552.2,485.32 L553,485.36 L553.8,485.4 L554.6,485.45 L555.4,485.51 L556.2,485.57 L557,485.64 L557.8,485.72 L558.6,485.81 L559.4,485.91 L560.2,486.02 L561,486.14 L561.8,486.27 L562.6,486.41 L563.4,486.56 L564.2,486.71 L565,486.88 L565.8,487.05 L566.6,487.22 L567.4,487.39 L568.2,487.56 L569,487.73 L569.8,487.9 L570.6,488.05 L571.4,488.2 L572.2,488.34 L573,488.47 L573.8,488.59 L574.6,488.7 L575.4,488.8 L576.2,488.89 L577,488.97 L577.8,489.04 L578.6,489.1 L579.4,489.16 L580.2,489.21 L581,489.25 L581.8,489.29 L582.6,489.33 L583.4,489.36 L584.2,489.39 L585,489.41 L585.8,489.45 L586.6,489.49 L587.4,489.53 L588.2,489.56 L589,489.6 L589.8,489.63 L590.6,489.66 L591.4,489.69 L592.2,489.72 L593,489.75 L593.8,489.78 L594.6,489.81 L595.4,489.83 L596.2,489.86 L597,489.89 L597.8,489.91 L598.6,489.94 L599.4,489.97 L600.2,489.99 L601,490.02 L601.8,490.04 L602.6,490.07 L603.4,490.1 L604.2,490.12 L605,490.15 L605.8,490.17 L606.6,490.2 L607.4,490.22 L608.2,490.25 L609,490.27 L609.8,490.3 L610.6,490.32 L611.4,490.35 L612.2,490.37 L613,490.4 L613.8,490.42 L614.6,490.45 L615.4,490.48 L616.2,490.5 L617,490.53 L617.8,490.55 L618.6,490.58 L619.4,490.6 L620.2,490.63 L621,490.65 L621.8,490.68 L622.6,490.7 L623.4,490.73 L624.2,490.75 L625,490.78 L625.8,490.8 L626.6,490.83 L627.4,490.85 L628.2,490.88 L629,490.9 L629.8,490.93 L630.6,490.95 L631.4,490.98 L632.2,491 L633,491.03 L633.8,491.05 L634.6,491.08 L635.4,491.1 L636.2,491.13 L637,491.15 L637.8,491.18 L638.6,491.2 L639.4,491.23 L640.2,491.25 L641,491.28 L641.8,491.3 L642.6,491.33 L643.4,491.35 L644.2,491.38 L645,491.4 L645.8,491.43 L646.6,491.46 L647.4,491.48 L648.2,491.51 L649,491.53 L649.8,491.56 L650.6,491.58 L651.4,491.61 L652.2,491.63 L653,491.66 L653.8,491.68 L654.6,491.71 L655.4,491.73 L656.2,491.76 L657,491.78 L657.8,491.81 L658.6,491.83 L659.4,491.86 L660.2,491.88 L661,491.91 L661.8,491.93 L662.6,491.96 L663.4,491.98 L664.2,492.01 L665,492.03 L665.8,492.06 L666.6,492.08 L667.4,492.11 L668.2,492.13 L669,492.16 L669.8,492.18 L670.6,492.21 L671.4,492.23 L672.2,492.26 L673,492.28 L673.8,492.31 L674.6,492.33 L675.4,492.36 L676.2,492.38 L677,492.41 L677.8,492.43 L678.6,492.46 L679.4,492.49 L680.2,492.51 L681,492.54 L681.8,492.56 L682.6,492.59 L683.4,492.61 L684.2,492.64" fill="none" stroke="#222" stroke-width="1.2" stroke-linejoin="round" stroke-linecap="butt" stroke-dasharray="1.3,1.5"/>
<path d="M378.6,484 L379.4,484.01 L380.2,484.01 L381,484.02 L381.8,484.02 L382.6,484.03 L383.4,484.03 L384.2,484.04 L385,484.04 L385.8,484.05 L386.6,484.05 L387.4,484.06 L388.2,484.06 L389,484.07 L389.8,484.07 L390.6,484.08 L391.4,484.08 L392.2,484.09 L393,484.09 L393.8,484.1 L394.6,484.1 L395.4,484.11 L396.2,484.11 L397,484.12 L397.8,484.12 L398.6,484.13 L399.4,484.13 L400.2,484.14 L401,484.14 L401.8,484.15 L402.6,484.15 L403.4,484.16 L404.2,484.16 L405,484.16 L405.8,484.17 L406.6,484.17 L407.4,484.18 L408.2,484.18 L409,484.18 L409.8,484.19 L410.6,484.19 L411.4,484.19 L412.2,484.19 L413,484.19 L413.8,484.19 L414.6,484.19 L415.4,484.19 L416.2,484.19 L417,484.19 L417.8,484.18 L418.6,484.18 L419.4,484.17 L420.2,484.16 L421,484.15 L421.8,484.14 L422.6,484.13 L423.4,484.11 L424.2,484.09 L425,484.07 L425.8,484.04 L426.6,484.01 L427.4,483.98 L428.2,483.94 L429,483.9 L429.8,483.85 L430.6,483.8 L431.4,483.75 L432.2,483.68 L433,483.62 L433.8,483.54 L434.6,483.47 L435.4,483.38 L436.2,483.29 L437,483.19 L437.8,483.08 L438.6,482.97 L439.4,482.85 L440.2,482.72 L441,482.59 L441.8,482.45 L442.6,482.31 L443.4,482.15 L444.2,482 L445,481.83 L445.8,481.66 L446.6,481.49 L447.4,481.31 L448.2,481.13 L449,480.95 L449.8,480.77 L450.6,480.58 L451.4,480.4 L452.2,480.22 L453,480.04 L453.8,479.86 L454.6,479.69 L455.4,479.52 L456.2,479.36 L457,479.2 L457.8,479.06 L458.6,478.92 L459.4,478.8 L460.2,478.68 L461,478.58 L461.8,478.49 L462.6,478.42 L463.4,478.36 L464.2,478.31 L465,478.28 L465.8,478.26 L466.6,478.26 L467.4,478.27 L468.2,478.29 L469,478.31 L469.8,478.34 L470.6,478.37 L471.4,478.41 L472.2,478.45 L473,478.51 L473.8,478.56 L474.6,478.62 L475.4,478.69 L476.2,478.77 L477,478.84 L477.8,478.92 L478.6,479.01 L479.4,479.1 L480.2,479.2 L481,479.3 L481.8,479.4 L482.6,479.51 L483.4,479.61 L484.2,479.73 L485,479.84 L485.8,479.96 L486.6,480.08 L487.4,480.2 L488.2,480.32 L489,480.44 L489.8,480.56 L490.6,480.69 L491.4,480.81 L492.2,480.94 L493,481.06 L493.8,481.19 L494.6,481.31 L495.4,481.44 L496.2,481.56 L497,481.68 L497.8,481.8 L498.6,481.92 L499.4,482.04 L500.2,482.15 L501,482.26 L501.8,482.38 L502.6,482.48 L503.4,482.59 L504.2,482.7 L505,482.8 L505.8,482.9 L506.6,482.99 L507.4,483.09 L508.2,483.18 L509,483.27 L509.8,483.35 L510.6,483.44 L511.4,483.52 L512.2,483.59 L513,483.67 L513.8,483.74 L514.6,483.81 L515.4,483.88 L516.2,483.94 L517,484 L517.8,484.06 L518.6,484.12 L519.4,484.17 L520.2,484.22 L521,484.27 L521.8,484.32 L522.6,484.36 L523.4,484.41 L524.2,484.45 L525,484.49 L525.8,484.52 L526.6,484.56 L527.4,484.59 L528.2,484.62 L529,484.65 L529.8,484.68 L530.6,484.71 L531.4,484.74 L532.2,484.76 L533,484.78 L533.8,484.81 L534.6,484.83 L535.4,484.85 L536.2,484.87 L537,484.89 L537.8,484.91 L538.6,484.92 L539.4,484.94 L540.2,484.96 L541,484.97 L541.8,484.99 L542.6,485.01 L543.4,485.03 L544.2,485.04 L545,485.06 L545.8,485.08 L546.6,485.1 L547.4,485.12 L548.2,485.14 L549,485.17 L549.8,485.2 L550.6,485.23 L551.4,485.26 L552.2,485.3 L553,485.34 L553.8,485.38 L554.6,485.43 L555.4,485.49 L556.2,485.56 L557,485.63 L557.8,485.71 L558.6,485.8 L559.4,485.9 L560.2,486.01 L561,486.13 L561.8,486.26 L562.6,486.4 L563.4,486.55 L564.2,486.71 L565,486.87 L565.8,487.04 L566.6,487.22 L567.4,487.39 L568.2,487.56 L569,487.73 L569.8,487.9 L570.6,488.05 L571.4,488.2 L572.2,488.34 L573,488.47 L573.8,488.59 L574.6,488.7 L575.4,488.8 L576.2,488.89 L577,488.97 L577.8,489.04 L578.6,489.1 L579.4,489.16 L580.2,489.21 L581,489.25 L581.8,489.29 L582.6,489.33 L583.4,489.36 L584.2,489.39 L585,489.41 L585.8,489.45 L586.6,489.49 L587.4,489.53 L588.2,489.56 L589,489.6 L589.8,489.63 L590.6,489.66 L591.4,489.69 L592.2,489.72 L593,489.75 L593.8,489.78 L594.6,489.81 L595.4,489.83 L596.2,489.86 L597,489.89 L597.8,489.91 L598.6,489.94 L599.4,489.97 L600.2,489.99 L601,490.02 L601.8,490.04 L602.6,490.07 L603.4,490.1 L604.2,490.12 L605,490.15 L605.8,490.17 L606.6,490.2 L607.4,490.22 L608.2,490.25 L609,490.27 L609.8,490.3 L610.6,490.32 L611.4,490.35 L612.2,490.37 L613,490.4 L613.8,490.42 L614.6,490.45 L615.4,490.48 L616.2,490.5 L617,490.53 L617.8,490.55 L618.6,490.58 L619.4,490.6 L620.2,490.63 L621,490.65 L621.8,490.68 L622.6,490.7 L623.4,490.73 L624.2,490.75 L625,490.78 L625.8,490.8 L626.6,490.83 L627.4,490.85 L628.2,490.88 L629,490.9 L629.8,490.93 L630.6,490.95 L631.4,490.98 L632.2,491 L633,491.03 L633.8,491.05 L634.6,491.08 L635.4,491.1 L636.2,491.13 L637,491.15 L637.8,491.18 L638.6,491.2 L639.4,491.23 L640.2,491.25 L641,491.28 L641.8,491.3 L642.6,491.33 L643.4,491.35 L644.2,491.38 L645,491.4 L645.8,491.43 L646.6,491.46 L647.4,491.48 L648.2,491.51 L649,491.53 L649.8,491.56 L650.6,491.58 L651.4,491.61 L652.2,491.63 L653,491.66 L653.8,491.68 L654.6,491.71 L655.4,491.73 L656.2,491.76 L657,491.78 L657.8,491.81 L658.6,491.83 L659.4,491.86 L660.2,491.88 L661,491.91 L661.8,491.93 L662.6,491.96 L663.4,491.98 L664.2,492.01 L665,492.03 L665.8,492.06 L666.6,492.08 L667.4,492.11 L668.2,492.13 L669,492.16 L669.8,492.18 L670.6,492.21 L671.4,492.23 L672.2,492.26 L673,492.28 L673.8,492.31 L674.6,492.33 L675.4,492.36 L676.2,492.38 L677,492.41 L677.8,492.43 L678.6,492.46 L679.4,492.49 L680.2,492.51 L681,492.54 L681.8,492.56 L682.6,492.59 L683.4,492.61 L684.2,492.64" fill="none" stroke="#4444ee" stroke-width="1.3" stroke-linejoin="round" stroke-linecap="butt" stroke-dasharray="1.3,1.5"/>
<path d="M378.6,484 L379.4,484.01 L380.2,484.01 L381,484.02 L381.8,484.02 L382.6,484.03 L383.4,484.03 L384.2,484.04 L385,484.04 L385.8,484.05 L386.6,484.05 L387.4,484.06 L388.2,484.06 L389,484.07 L389.8,484.07 L390.6,484.08 L391.4,484.08 L392.2,484.09 L393,484.09 L393.8,484.1 L394.6,484.1 L395.4,484.11 L396.2,484.11 L397,484.12 L397.8,484.12 L398.6,484.13 L399.4,484.13 L400.2,484.14 L401,484.14 L401.8,484.15 L402.6,484.15 L403.4,484.16 L404.2,484.16 L405,484.17 L405.8,484.17 L406.6,484.18 L407.4,484.18 L408.2,484.19 L409,484.19 L409.8,484.2 L410.6,484.2 L411.4,484.21 L412.2,484.22 L413,484.22 L413.8,484.23 L414.6,484.23 L415.4,484.24 L416.2,484.24 L417,484.25 L417.8,484.25 L418.6,484.26 L419.4,484.26 L420.2,484.27 L421,484.27 L421.8,484.28 L422.6,484.28 L423.4,484.29 L424.2,484.29 L425,484.3 L425.8,484.3 L426.6,484.31 L427.4,484.31 L428.2,484.32 L429,484.32 L429.8,484.33 L430.6,484.33 L431.4,484.34 L432.2,484.34 L433,484.35 L433.8,484.35 L434.6,484.36 L435.4,484.36 L436.2,484.37 L437,484.37 L437.8,484.38 L438.6,484.38 L439.4,484.39 L440.2,484.39 L441,484.4 L441.8,484.4 L442.6,484.41 L443.4,484.41 L444.2,484.42 L445,484.42 L445.8,484.43 L446.6,484.44 L447.4,484.44 L448.2,484.45 L449,484.45 L449.8,484.46 L450.6,484.46 L451.4,484.47 L452.2,484.47 L453,484.48 L453.8,484.48 L454.6,484.49 L455.4,484.49 L456.2,484.5 L457,484.5 L457.8,484.51 L458.6,484.51 L459.4,484.52 L460.2,484.52 L461,484.52 L461.8,484.53 L462.6,484.53 L463.4,484.54 L464.2,484.54 L465,484.55 L465.8,484.55 L466.6,484.55 L467.4,484.56 L468.2,484.56 L469,484.56 L469.8,484.56 L470.6,484.57 L471.4,484.57 L472.2,484.57 L473,484.57 L473.8,484.57 L474.6,484.57 L475.4,484.56 L476.2,484.56 L477,484.56 L477.8,484.55 L478.6,484.54 L479.4,484.53 L480.2,484.52 L481,484.51 L481.8,484.5 L482.6,484.48 L483.4,484.46 L484.2,484.44 L485,484.41 L485.8,484.38 L486.6,484.34 L487.4,484.31 L488.2,484.26 L489,484.22 L489.8,484.16 L490.6,484.1 L491.4,484.04 L492.2,483.97 L493,483.89 L493.8,483.8 L494.6,483.7 L495.4,483.6 L496.2,483.49 L497,483.37 L497.8,483.23 L498.6,483.09 L499.4,482.94 L500.2,482.77 L501,482.59 L501.8,482.41 L502.6,482.2 L503.4,481.99 L504.2,481.76 L505,481.52 L505.8,481.27 L506.6,481 L507.4,480.72 L508.2,480.43 L509,480.12 L509.8,479.8 L510.6,479.47 L511.4,479.12 L512.2,478.76 L513,478.4 L513.8,478.02 L514.6,477.63 L515.4,477.24 L516.2,476.84 L517,476.43 L517.8,476.01 L518.6,475.6 L519.4,475.18 L520.2,474.75 L521,474.33 L521.8,473.92 L522.6,473.5 L523.4,473.1 L524.2,472.7 L525,472.31 L525.8,471.93 L526.6,471.56 L527.4,471.21 L528.2,470.87 L529,470.55 L529.8,470.25 L530.6,469.98 L531.4,469.72 L532.2,469.49 L533,469.29 L533.8,469.11 L534.6,468.96 L535.4,468.84 L536.2,468.74 L537,468.68 L537.8,468.64 L538.6,468.64 L539.4,468.67 L540.2,468.74 L541,468.86 L541.8,469.01 L542.6,469.2 L543.4,469.43 L544.2,469.7 L545,469.99 L545.8,470.32 L546.6,470.69 L547.4,471.08 L548.2,471.49 L549,471.93 L549.8,472.39 L550.6,472.87 L551.4,473.37 L552.2,473.88 L553,474.4 L553.8,474.94 L554.6,475.48 L555.4,476.03 L556.2,476.58 L557,477.14 L557.8,477.7 L558.6,478.26 L559.4,478.82 L560.2,479.38 L561,479.94 L561.8,480.49 L562.6,481.03 L563.4,481.57 L564.2,482.1 L565,482.62 L565.8,483.13 L566.6,483.62 L567.4,484.09 L568.2,484.55 L569,484.98 L569.8,485.4 L570.6,485.79 L571.4,486.15 L572.2,486.49 L573,486.8 L573.8,487.09 L574.6,487.36 L575.4,487.6 L576.2,487.82 L577,488.02 L577.8,488.2 L578.6,488.36 L579.4,488.5 L580.2,488.63 L581,488.74 L581.8,488.85 L582.6,488.94 L583.4,489.02 L584.2,489.09 L585,489.15 L585.8,489.23 L586.6,489.3 L587.4,489.36 L588.2,489.42 L589,489.47 L589.8,489.52 L590.6,489.57 L591.4,489.61 L592.2,489.66 L593,489.69 L593.8,489.73 L594.6,489.77 L595.4,489.8 L596.2,489.83 L597,489.86 L597.8,489.89 L598.6,489.92 L599.4,489.95 L600.2,489.98 L601,490.01 L601.8,490.04 L602.6,490.06 L603.4,490.09 L604.2,490.12 L605,490.14 L605.8,490.17 L606.6,490.2 L607.4,490.22 L608.2,490.25 L609,490.27 L609.8,490.3 L610.6,490.32 L611.4,490.35 L612.2,490.37 L613,490.4 L613.8,490.42 L614.6,490.45 L615.4,490.48 L616.2,490.5 L617,490.53 L617.8,490.55 L618.6,490.58 L619.4,490.6 L620.2,490.63 L621,490.65 L621.8,490.68 L622.6,490.7 L623.4,490.73 L624.2,490.75 L625,490.78 L625.8,490.8 L626.6,490.83 L627.4,490.85 L628.2,490.88 L629,490.9 L629.8,490.93 L630.6,490.95 L631.4,490.98 L632.2,491 L633,491.03 L633.8,491.05 L634.6,491.08 L635.4,491.1 L636.2,491.13 L637,491.15 L637.8,491.18 L638.6,491.2 L639.4,491.23 L640.2,491.25 L641,491.28 L641.8,491.3 L642.6,491.33 L643.4,491.35 L644.2,491.38 L645,491.4 L645.8,491.43 L646.6,491.46 L647.4,491.48 L648.2,491.51 L649,491.53 L649.8,491.56 L650.6,491.58 L651.4,491.61 L652.2,491.63 L653,491.66 L653.8,491.68 L654.6,491.71 L655.4,491.73 L656.2,491.76 L657,491.78 L657.8,491.81 L658.6,491.83 L659.4,491.86 L660.2,491.88 L661,491.91 L661.8,491.93 L662.6,491.96 L663.4,491.98 L664.2,492.01 L665,492.03 L665.8,492.06 L666.6,492.08 L667.4,492.11 L668.2,492.13 L669,492.16 L669.8,492.18 L670.6,492.21 L671.4,492.23 L672.2,492.26 L673,492.28 L673.8,492.31 L674.6,492.33 L675.4,492.36 L676.2,492.38 L677,492.41 L677.8,492.43 L678.6,492.46 L679.4,492.49 L680.2,492.51 L681,492.54 L681.8,492.56 L682.6,492.59 L683.4,492.61 L684.2,492.64" fill="none" stroke="#a8a850" stroke-width="1.3" stroke-linejoin="round" stroke-linecap="butt" stroke-dasharray="1.3,1.5"/>
<path d="M378.6,484 L379.4,484.01 L380.2,484.01 L381,484.02 L381.8,484.02 L382.6,484.03 L383.4,484.03 L384.2,484.04 L385,484.04 L385.8,484.05 L386.6,484.05 L387.4,484.06 L388.2,484.06 L389,484.07 L389.8,484.07 L390.6,484.08 L391.4,484.08 L392.2,484.09 L393,484.09 L393.8,484.1 L394.6,484.1 L395.4,484.11 L396.2,484.11 L397,484.12 L397.8,484.12 L398.6,484.13 L399.4,484.13 L400.2,484.14 L401,484.14 L401.8,484.15 L402.6,484.15 L403.4,484.16 L404.2,484.16 L405,484.17 L405.8,484.17 L406.6,484.18 L407.4,484.18 L408.2,484.19 L409,484.19 L409.8,484.2 L410.6,484.2 L411.4,484.21 L412.2,484.22 L413,484.22 L413.8,484.23 L414.6,484.23 L415.4,484.24 L416.2,484.24 L417,484.25 L417.8,484.25 L418.6,484.26 L419.4,484.26 L420.2,484.27 L421,484.27 L421.8,484.28 L422.6,484.28 L423.4,484.29 L424.2,484.29 L425,484.3 L425.8,484.3 L426.6,484.31 L427.4,484.31 L428.2,484.32 L429,484.32 L429.8,484.33 L430.6,484.33 L431.4,484.34 L432.2,484.34 L433,484.35 L433.8,484.35 L434.6,484.36 L435.4,484.36 L436.2,484.37 L437,484.37 L437.8,484.38 L438.6,484.38 L439.4,484.39 L440.2,484.39 L441,484.4 L441.8,484.4 L442.6,484.41 L443.4,484.41 L444.2,484.42 L445,484.42 L445.8,484.43 L446.6,484.44 L447.4,484.44 L448.2,484.45 L449,484.45 L449.8,484.46 L450.6,484.46 L451.4,484.47 L452.2,484.47 L453,484.48 L453.8,484.48 L454.6,484.49 L455.4,484.49 L456.2,484.5 L457,484.5 L457.8,484.51 L458.6,484.51 L459.4,484.52 L460.2,484.52 L461,484.53 L461.8,484.53 L462.6,484.54 L463.4,484.54 L464.2,484.55 L465,484.55 L465.8,484.56 L466.6,484.56 L467.4,484.57 L468.2,484.57 L469,484.58 L469.8,484.58 L470.6,484.59 L471.4,484.59 L472.2,484.6 L473,484.6 L473.8,484.61 L474.6,484.61 L475.4,484.62 L476.2,484.62 L477,484.63 L477.8,484.63 L478.6,484.64 L479.4,484.65 L480.2,484.65 L481,484.66 L481.8,484.66 L482.6,484.67 L483.4,484.67 L484.2,484.68 L485,484.68 L485.8,484.69 L486.6,484.69 L487.4,484.7 L488.2,484.7 L489,484.71 L489.8,484.71 L490.6,484.72 L491.4,484.72 L492.2,484.73 L493,484.73 L493.8,484.74 L494.6,484.74 L495.4,484.75 L496.2,484.75 L497,484.76 L497.8,484.76 L498.6,484.77 L499.4,484.77 L500.2,484.78 L501,484.78 L501.8,484.79 L502.6,484.79 L503.4,484.8 L504.2,484.8 L505,484.81 L505.8,484.81 L506.6,484.82 L507.4,484.82 L508.2,484.83 L509,484.83 L509.8,484.84 L510.6,484.84 L511.4,484.85 L512.2,484.86 L513,484.86 L513.8,484.87 L514.6,484.87 L515.4,484.88 L516.2,484.88 L517,484.89 L517.8,484.89 L518.6,484.9 L519.4,484.9 L520.2,484.91 L521,484.91 L521.8,484.92 L522.6,484.92 L523.4,484.93 L524.2,484.93 L525,484.94 L525.8,484.94 L526.6,484.95 L527.4,484.95 L528.2,484.96 L529,484.96 L529.8,484.97 L530.6,484.97 L531.4,484.98 L532.2,484.98 L533,484.98 L533.8,484.98 L534.6,484.98 L535.4,484.98 L536.2,484.97 L537,484.96 L537.8,484.93 L538.6,484.9 L539.4,484.86 L540.2,484.8 L541,484.72 L541.8,484.62 L542.6,484.49 L543.4,484.34 L544.2,484.15 L545,483.92 L545.8,483.65 L546.6,483.35 L547.4,483.01 L548.2,482.63 L549,482.23 L549.8,481.81 L550.6,481.37 L551.4,480.94 L552.2,480.52 L553,480.14 L553.8,479.8 L554.6,479.52 L555.4,479.31 L556.2,479.19 L557,479.16 L557.8,479.23 L558.6,479.42 L559.4,479.73 L560.2,480.16 L561,480.67 L561.8,481.27 L562.6,481.91 L563.4,482.59 L564.2,483.27 L565,483.95 L565.8,484.59 L566.6,485.2 L567.4,485.77 L568.2,486.28 L569,486.73 L569.8,487.13 L570.6,487.48 L571.4,487.78 L572.2,488.04 L573,488.25 L573.8,488.44 L574.6,488.6 L575.4,488.73 L576.2,488.84 L577,488.94 L577.8,489.02 L578.6,489.09 L579.4,489.15 L580.2,489.21 L581,489.25 L581.8,489.29 L582.6,489.33 L583.4,489.36 L584.2,489.39 L585,489.41 L585.8,489.45 L586.6,489.49 L587.4,489.53 L588.2,489.56 L589,489.6 L589.8,489.63 L590.6,489.66 L591.4,489.69 L592.2,489.72 L593,489.75 L593.8,489.78 L594.6,489.81 L595.4,489.83 L596.2,489.86 L597,489.89 L597.8,489.91 L598.6,489.94 L599.4,489.97 L600.2,489.99 L601,490.02 L601.8,490.04 L602.6,490.07 L603.4,490.1 L604.2,490.12 L605,490.15 L605.8,490.17 L606.6,490.2 L607.4,490.22 L608.2,490.25 L609,490.27 L609.8,490.3 L610.6,490.32 L611.4,490.35 L612.2,490.37 L613,490.4 L613.8,490.42 L614.6,490.45 L615.4,490.48 L616.2,490.5 L617,490.53 L617.8,490.55 L618.6,490.58 L619.4,490.6 L620.2,490.63 L621,490.65 L621.8,490.68 L622.6,490.7 L623.4,490.73 L624.2,490.75 L625,490.78 L625.8,490.8 L626.6,490.83 L627.4,490.85 L628.2,490.88 L629,490.9 L629.8,490.93 L630.6,490.95 L631.4,490.98 L632.2,491 L633,491.03 L633.8,491.05 L634.6,491.08 L635.4,491.1 L636.2,491.13 L637,491.15 L637.8,491.18 L638.6,491.2 L639.4,491.23 L640.2,491.25 L641,491.28 L641.8,491.3 L642.6,491.33 L643.4,491.35 L644.2,491.38 L645,491.4 L645.8,491.43 L646.6,491.46 L647.4,491.48 L648.2,491.51 L649,491.53 L649.8,491.56 L650.6,491.58 L651.4,491.61 L652.2,491.63 L653,491.66 L653.8,491.68 L654.6,491.71 L655.4,491.73 L656.2,491.76 L657,491.78 L657.8,491.81 L658.6,491.83 L659.4,491.86 L660.2,491.88 L661,491.91 L661.8,491.93 L662.6,491.96 L663.4,491.98 L664.2,492.01 L665,492.03 L665.8,492.06 L666.6,492.08 L667.4,492.11 L668.2,492.13 L669,492.16 L669.8,492.18 L670.6,492.21 L671.4,492.23 L672.2,492.26 L673,492.28 L673.8,492.31 L674.6,492.33 L675.4,492.36 L676.2,492.38 L677,492.41 L677.8,492.43 L678.6,492.46 L679.4,492.49 L680.2,492.51 L681,492.54 L681.8,492.56 L682.6,492.59 L683.4,492.61 L684.2,492.64" fill="none" stroke="#ff44ff" stroke-width="1.3" stroke-linejoin="round" stroke-linecap="butt" stroke-dasharray="1.3,1.5"/>
<path d="M378.6,484 L379.4,484.01 L380.2,484.01 L381,484.02 L381.8,484.02 L382.6,484.03 L383.4,484.03 L384.2,484.04 L385,484.04 L385.8,484.05 L386.6,484.05 L387.4,484.06 L388.2,484.06 L389,484.07 L389.8,484.07 L390.6,484.08 L391.4,484.08 L392.2,484.09 L393,484.09 L393.8,484.1 L394.6,484.1 L395.4,484.11 L396.2,484.11 L397,484.12 L397.8,484.12 L398.6,484.13 L399.4,484.13 L400.2,484.14 L401,484.14 L401.8,484.15 L402.6,484.15 L403.4,484.16 L404.2,484.16 L405,484.17 L405.8,484.17 L406.6,484.18 L407.4,484.18 L408.2,484.19 L409,484.19 L409.8,484.2 L410.6,484.2 L411.4,484.21 L412.2,484.22 L413,484.22 L413.8,484.23 L414.6,484.23 L415.4,484.24 L416.2,484.24 L417,484.25 L417.8,484.25 L418.6,484.26 L419.4,484.26 L420.2,484.27 L421,484.27 L421.8,484.28 L422.6,484.28 L423.4,484.29 L424.2,484.29 L425,484.3 L425.8,484.3 L426.6,484.31 L427.4,484.31 L428.2,484.32 L429,484.32 L429.8,484.33 L430.6,484.33 L431.4,484.34 L432.2,484.34 L433,484.35 L433.8,484.35 L434.6,484.36 L435.4,484.36 L436.2,484.37 L437,484.37 L437.8,484.38 L438.6,484.38 L439.4,484.39 L440.2,484.39 L441,484.4 L441.8,484.4 L442.6,484.41 L443.4,484.41 L444.2,484.42 L445,484.42 L445.8,484.43 L446.6,484.43 L447.4,484.44 L448.2,484.44 L449,484.45 L449.8,484.45 L450.6,484.46 L451.4,484.46 L452.2,484.47 L453,484.47 L453.8,484.48 L454.6,484.48 L455.4,484.49 L456.2,484.49 L457,484.5 L457.8,484.5 L458.6,484.51 L459.4,484.51 L460.2,484.52 L461,484.52 L461.8,484.53 L462.6,484.53 L463.4,484.54 L464.2,484.54 L465,484.54 L465.8,484.55 L466.6,484.55 L467.4,484.56 L468.2,484.56 L469,484.56 L469.8,484.57 L470.6,484.57 L471.4,484.58 L472.2,484.58 L473,484.58 L473.8,484.59 L474.6,484.59 L475.4,484.59 L476.2,484.6 L477,484.6 L477.8,484.6 L478.6,484.6 L479.4,484.61 L480.2,484.61 L481,484.61 L481.8,484.61 L482.6,484.62 L483.4,484.62 L484.2,484.62 L485,484.62 L485.8,484.62 L486.6,484.62 L487.4,484.63 L488.2,484.63 L489,484.63 L489.8,484.63 L490.6,484.63 L491.4,484.63 L492.2,484.63 L493,484.63 L493.8,484.63 L494.6,484.63 L495.4,484.63 L496.2,484.63 L497,484.63 L497.8,484.63 L498.6,484.62 L499.4,484.62 L500.2,484.62 L501,484.62 L501.8,484.62 L502.6,484.61 L503.4,484.61 L504.2,484.61 L505,484.6 L505.8,484.6 L506.6,484.6 L507.4,484.59 L508.2,484.59 L509,484.58 L509.8,484.58 L510.6,484.57 L511.4,484.57 L512.2,484.56 L513,484.55 L513.8,484.55 L514.6,484.54 L515.4,484.53 L516.2,484.52 L517,484.52 L517.8,484.51 L518.6,484.5 L519.4,484.49 L520.2,484.48 L521,484.47 L521.8,484.45 L522.6,484.44 L523.4,484.43 L524.2,484.41 L525,484.4 L525.8,484.38 L526.6,484.36 L527.4,484.34 L528.2,484.32 L529,484.29 L529.8,484.26 L530.6,484.23 L531.4,484.2 L532.2,484.16 L533,484.11 L533.8,484.06 L534.6,483.99 L535.4,483.92 L536.2,483.84 L537,483.74 L537.8,483.63 L538.6,483.5 L539.4,483.34 L540.2,483.17 L541,482.96 L541.8,482.72 L542.6,482.44 L543.4,482.12 L544.2,481.75 L545,481.33 L545.8,480.84 L546.6,480.29 L547.4,479.66 L548.2,478.95 L549,478.15 L549.8,477.25 L550.6,476.24 L551.4,475.13 L552.2,473.89 L553,472.53 L553.8,471.03 L554.6,469.4 L555.4,467.63 L556.2,465.72 L557,463.67 L557.8,461.47 L558.6,459.14 L559.4,456.67 L560.2,454.08 L561,451.38 L561.8,448.57 L562.6,445.66 L563.4,442.69 L564.2,439.66 L565,436.6 L565.8,433.52 L566.6,430.45 L567.4,427.42 L568.2,424.46 L569,421.59 L569.8,418.84 L570.6,416.25 L571.4,413.84 L572.2,411.65 L573,409.7 L573.8,408.02 L574.6,406.64 L575.4,405.58 L576.2,404.85 L577,404.47 L577.8,404.45 L578.6,404.72 L579.4,405.26 L580.2,406.07 L581,407.14 L581.8,408.45 L582.6,410.01 L583.4,411.78 L584.2,413.77 L585,415.94 L585.8,418.31 L586.6,420.83 L587.4,423.48 L588.2,426.23 L589,429.07 L589.8,431.98 L590.6,434.93 L591.4,437.9 L592.2,440.88 L593,443.84 L593.8,446.76 L594.6,449.63 L595.4,452.44 L596.2,455.17 L597,457.81 L597.8,460.36 L598.6,462.79 L599.4,465.11 L600.2,467.31 L601,469.39 L601.8,471.34 L602.6,473.17 L603.4,474.88 L604.2,476.46 L605,477.93 L605.8,479.28 L606.6,480.51 L607.4,481.64 L608.2,482.67 L609,483.61 L609.8,484.45 L610.6,485.21 L611.4,485.9 L612.2,486.51 L613,487.05 L613.8,487.54 L614.6,487.97 L615.4,488.35 L616.2,488.68 L617,488.98 L617.8,489.24 L618.6,489.46 L619.4,489.66 L620.2,489.84 L621,489.99 L621.8,490.13 L622.6,490.24 L623.4,490.35 L624.2,490.44 L625,490.52 L625.8,490.59 L626.6,490.65 L627.4,490.71 L628.2,490.76 L629,490.81 L629.8,490.85 L630.6,490.89 L631.4,490.93 L632.2,490.96 L633,491 L633.8,491.03 L634.6,491.06 L635.4,491.09 L636.2,491.12 L637,491.14 L637.8,491.17 L638.6,491.2 L639.4,491.22 L640.2,491.25 L641,491.28 L641.8,491.3 L642.6,491.33 L643.4,491.35 L644.2,491.38 L645,491.4 L645.8,491.43 L646.6,491.45 L647.4,491.48 L648.2,491.51 L649,491.53 L649.8,491.56 L650.6,491.58 L651.4,491.61 L652.2,491.63 L653,491.66 L653.8,491.68 L654.6,491.71 L655.4,491.73 L656.2,491.76 L657,491.78 L657.8,491.81 L658.6,491.83 L659.4,491.86 L660.2,491.88 L661,491.91 L661.8,491.93 L662.6,491.96 L663.4,491.98 L664.2,492.01 L665,492.03 L665.8,492.06 L666.6,492.08 L667.4,492.11 L668.2,492.13 L669,492.16 L669.8,492.18 L670.6,492.21 L671.4,492.23 L672.2,492.26 L673,492.28 L673.8,492.31 L674.6,492.33 L675.4,492.36 L676.2,492.38 L677,492.41 L677.8,492.43 L678.6,492.46 L679.4,492.49 L680.2,492.51 L681,492.54 L681.8,492.56 L682.6,492.59 L683.4,492.61 L684.2,492.64" fill="none" stroke="#ff4848" stroke-width="1.3" stroke-linejoin="round" stroke-linecap="butt" stroke-dasharray="1.3,1.5"/>
<path d="M379.2,484.4 L379.63,484.4 L380.17,484.39 L380.79,484.38 L381.49,484.38 L382.26,484.37 L383.07,484.36 L383.92,484.35 L384.8,484.35 L385.69,484.34 L386.58,484.33 L387.46,484.32 L388.31,484.32 L389.13,484.31 L389.89,484.3 L390.6,484.3 L391.5,484.3 L392.38,484.3 L393.23,484.3 L394.06,484.3 L394.87,484.3 L395.66,484.3 L396.43,484.3 L397.17,484.3 L397.9,484.3 L398.61,484.3 L399.3,484.3 L400.21,484.29 L401.07,484.29 L401.9,484.28 L402.68,484.28 L403.44,484.26 L404.17,484.25 L404.89,484.23 L405.6,484.2 L406.39,484.16 L407.15,484.12 L407.89,484.07 L408.6,484.02 L409.28,483.95 L409.95,483.88 L410.6,483.8 L411.33,483.68 L412.03,483.54 L412.7,483.39 L413.35,483.24 L413.98,483.11 L414.6,483 L415.32,482.9 L415.99,482.82 L416.65,482.75 L417.32,482.71 L418,482.7 L418.71,482.72 L419.43,482.78 L420.16,482.85 L420.88,482.93 L421.6,483 L422.31,483.06 L423.02,483.13 L423.72,483.2 L424.41,483.26 L425.1,483.3 L425.74,483.33 L426.34,483.35 L426.95,483.35 L427.62,483.34 L428.4,483.3 L429.03,483.26 L429.69,483.21 L430.39,483.15 L431.13,483.08 L431.91,482.99 L432.74,482.9 L433.6,482.8 L434.32,482.71 L435.09,482.61 L435.9,482.5 L436.74,482.38 L437.59,482.27 L438.43,482.14 L439.26,482.03 L440.05,481.91 L440.8,481.8 L441.59,481.68 L442.33,481.57 L443.04,481.46 L443.74,481.36 L444.43,481.25 L445.13,481.14 L445.85,481.02 L446.6,480.9 L447.29,480.79 L448,480.67 L448.71,480.56 L449.43,480.44 L450.17,480.32 L450.91,480.2 L451.66,480.07 L452.43,479.94 L453.2,479.8 L453.91,479.67 L454.63,479.53 L455.37,479.38 L456.12,479.23 L456.87,479.08 L457.62,478.92 L458.38,478.78 L459.13,478.64 L459.87,478.51 L460.6,478.4 L461.4,478.29 L462.2,478.18 L463,478.08 L463.79,477.99 L464.57,477.91 L465.36,477.84 L466.14,477.78 L466.92,477.73 L467.7,477.7 L468.47,477.68 L469.23,477.68 L469.99,477.69 L470.74,477.71 L471.5,477.73 L472.26,477.77 L473.02,477.81 L473.8,477.86 L474.6,477.9 L475.33,477.94 L476.06,477.99 L476.8,478.04 L477.55,478.1 L478.31,478.16 L479.07,478.23 L479.84,478.29 L480.62,478.36 L481.4,478.43 L482.2,478.5 L482.95,478.57 L483.74,478.64 L484.55,478.71 L485.38,478.79 L486.21,478.87 L487.03,478.95 L487.84,479.02 L488.6,479.1 L489.33,479.17 L490,479.24 L490.6,479.3 L491.52,479.41 L492.25,479.51 L492.86,479.61 L493.41,479.69 L493.97,479.75 L494.6,479.8 L495.28,479.83 L495.96,479.85 L496.65,479.85 L497.35,479.83 L498.06,479.78 L498.8,479.7 L499.43,479.6 L500.06,479.49 L500.69,479.35 L501.34,479.19 L502.04,479.02 L502.78,478.82 L503.6,478.6 L504.31,478.41 L505.08,478.19 L505.91,477.96 L506.77,477.71 L507.63,477.46 L508.49,477.21 L509.32,476.96 L510.09,476.72 L510.8,476.5 L511.61,476.24 L512.33,475.99 L512.99,475.74 L513.63,475.51 L514.25,475.27 L514.9,475.04 L515.6,474.8 L516.32,474.57 L517.02,474.37 L517.73,474.17 L518.46,473.95 L519.24,473.72 L520.08,473.44 L521,473.1 L521.65,472.84 L522.37,472.54 L523.14,472.22 L523.94,471.87 L524.75,471.51 L525.57,471.14 L526.38,470.79 L527.16,470.44 L527.9,470.13 L528.59,469.84 L529.2,469.6 L530.16,469.25 L530.97,468.98 L531.68,468.78 L532.32,468.61 L532.95,468.46 L533.6,468.3 L534.39,468.13 L535.14,468 L535.88,467.88 L536.62,467.76 L537.4,467.6 L538.08,467.45 L538.78,467.28 L539.49,467.11 L540.2,466.92 L540.91,466.72 L541.6,466.5 L542.29,466.26 L542.98,466.01 L543.66,465.74 L544.33,465.46 L544.98,465.18 L545.6,464.9 L546.3,464.58 L546.95,464.26 L547.58,463.94 L548.19,463.59 L548.8,463.2 L549.54,462.68 L550.26,462.14 L550.97,461.52 L551.7,460.8 L552.46,459.96 L553.24,459.03 L554.03,458.01 L554.8,456.9 L555.55,455.71 L556.3,454.43 L557.05,453.06 L557.8,451.6 L558.57,450.04 L559.34,448.39 L560.12,446.67 L560.9,444.9 L561.67,443.11 L562.45,441.29 L563.22,439.37 L564,437.3 L564.78,435.05 L565.56,432.64 L566.33,430.14 L567.1,427.6 L567.88,424.88 L568.66,422.01 L569.42,419.25 L570.1,416.9 L570.87,414.55 L571.54,412.75 L572.2,411.1 L572.88,409.49 L573.54,408.03 L574.2,406.7 L574.84,405.49 L575.48,404.4 L576.1,403.5 L576.69,402.77 L577.27,402.21 L577.9,401.9 L578.6,401.88 L579.35,402.11 L580.1,402.5 L580.88,403.01 L581.74,403.68 L582.6,404.6 L583.43,405.81 L584.26,407.27 L585.06,408.9 L585.85,410.71 L586.63,412.7 L587.41,414.8 L588.23,417.01 L589.06,419.33 L589.88,421.7 L590.57,424.11 L591.23,426.57 L591.9,429.1 L592.6,431.71 L593.3,434.38 L594,437.1 L594.67,439.87 L595.34,442.69 L596,445.5 L596.66,448.29 L597.33,451.06 L598,453.8 L598.7,456.51 L599.4,459.18 L600.1,461.8 L600.77,464.36 L601.43,466.87 L602.09,469.3 L602.68,471.7 L603.29,474.01 L603.89,476.1 L604.47,477.89 L605.04,479.44 L605.61,480.8 L606.2,481.96 L606.81,482.93 L607.42,483.8 L608.04,484.59 L608.67,485.29 L609.31,485.9 L609.93,486.42 L610.57,486.87 L611.4,487.3 L611.97,487.57 L612.59,487.85 L613.24,488.12 L613.91,488.37 L614.6,488.6 L615.28,488.8 L615.97,488.97 L616.68,489.12 L617.45,489.26 L618.3,489.4 L618.96,489.5 L619.65,489.59 L620.37,489.68 L621.13,489.77 L621.92,489.85 L622.74,489.93 L623.6,490 L624.26,490.05 L624.88,490.1 L625.49,490.14 L626.13,490.19 L626.81,490.23 L627.57,490.27 L628.44,490.31 L629.44,490.35 L630.6,490.4 L631.18,490.42 L631.79,490.44 L632.43,490.47 L633.09,490.49 L633.78,490.51 L634.5,490.53 L635.24,490.56 L636,490.58 L636.77,490.6 L637.57,490.63 L638.38,490.65 L639.2,490.67 L640.04,490.7 L640.89,490.72 L641.74,490.75 L642.61,490.78 L643.48,490.81 L644.35,490.84 L645.22,490.87 L646.1,490.9 L646.81,490.93 L647.52,490.95 L648.25,490.98 L648.99,491.01 L649.74,491.04 L650.5,491.07 L651.27,491.1 L652.04,491.13 L652.83,491.16 L653.61,491.19 L654.4,491.23 L655.2,491.26 L656,491.29 L656.8,491.32 L657.61,491.36 L658.41,491.39 L659.22,491.43 L660.03,491.46 L660.83,491.49 L661.64,491.53 L662.44,491.56 L663.23,491.6 L664.03,491.63 L664.82,491.67 L665.6,491.7 L666.39,491.73 L667.22,491.77 L668.06,491.81 L668.93,491.85 L669.81,491.89 L670.71,491.93 L671.61,491.97 L672.52,492.01 L673.43,492.05 L674.34,492.1 L675.24,492.14 L676.13,492.18 L677.01,492.22 L677.87,492.26 L678.7,492.3 L679.52,492.34 L680.3,492.38 L681.06,492.41 L681.77,492.44 L682.45,492.48 L683.08,492.51 L683.67,492.53 L684.2,492.56 L684.68,492.58 L685.1,492.6" fill="none" stroke="#33e033" stroke-width="1.3" stroke-linejoin="round" stroke-linecap="round" />
<path d="M378.6,484.1 L379.03,484.1 L379.57,484.09 L380.19,484.08 L380.89,484.08 L381.66,484.07 L382.47,484.06 L383.32,484.05 L384.2,484.05 L385.09,484.04 L385.98,484.03 L386.86,484.02 L387.71,484.02 L388.53,484.01 L389.29,484 L390,484 L390.9,484 L391.78,484 L392.63,484 L393.46,484 L394.27,484 L395.06,484 L395.83,484 L396.57,484 L397.3,484 L398.01,484 L398.7,484 L399.61,483.99 L400.47,483.99 L401.3,483.98 L402.08,483.98 L402.84,483.96 L403.57,483.95 L404.29,483.93 L405,483.9 L405.79,483.86 L406.55,483.82 L407.29,483.77 L408,483.72 L408.68,483.65 L409.35,483.58 L410,483.5 L410.73,483.38 L411.43,483.24 L412.1,483.09 L412.75,482.94 L413.38,482.81 L414,482.7 L414.72,482.6 L415.39,482.52 L416.05,482.45 L416.72,482.41 L417.4,482.4 L418.11,482.42 L418.83,482.48 L419.56,482.55 L420.28,482.63 L421,482.7 L421.71,482.76 L422.42,482.83 L423.12,482.9 L423.81,482.96 L424.5,483 L425.14,483.03 L425.74,483.05 L426.35,483.05 L427.02,483.04 L427.8,483 L428.43,482.96 L429.09,482.91 L429.79,482.85 L430.53,482.78 L431.31,482.69 L432.14,482.6 L433,482.5 L433.72,482.41 L434.49,482.31 L435.3,482.2 L436.14,482.08 L436.99,481.97 L437.83,481.84 L438.66,481.73 L439.45,481.61 L440.2,481.5 L440.99,481.38 L441.73,481.27 L442.44,481.16 L443.14,481.06 L443.83,480.95 L444.53,480.84 L445.25,480.72 L446,480.6 L446.69,480.49 L447.4,480.37 L448.11,480.26 L448.83,480.14 L449.57,480.02 L450.31,479.9 L451.06,479.77 L451.83,479.64 L452.6,479.5 L453.31,479.37 L454.03,479.23 L454.77,479.08 L455.52,478.93 L456.27,478.78 L457.02,478.62 L457.78,478.48 L458.53,478.34 L459.27,478.21 L460,478.1 L460.8,477.99 L461.6,477.88 L462.4,477.78 L463.19,477.69 L463.97,477.61 L464.76,477.54 L465.54,477.48 L466.32,477.43 L467.1,477.4 L467.87,477.38 L468.63,477.38 L469.39,477.39 L470.14,477.41 L470.9,477.43 L471.66,477.47 L472.42,477.51 L473.2,477.56 L474,477.6 L474.73,477.64 L475.46,477.69 L476.2,477.74 L476.95,477.8 L477.71,477.86 L478.47,477.93 L479.24,477.99 L480.02,478.06 L480.8,478.13 L481.6,478.2 L482.35,478.27 L483.14,478.34 L483.95,478.41 L484.78,478.49 L485.61,478.57 L486.43,478.65 L487.24,478.72 L488,478.8 L488.73,478.87 L489.4,478.94 L490,479 L490.92,479.11 L491.65,479.21 L492.26,479.31 L492.81,479.39 L493.37,479.45 L494,479.5 L494.68,479.53 L495.36,479.55 L496.05,479.55 L496.75,479.53 L497.46,479.48 L498.2,479.4 L498.83,479.3 L499.46,479.19 L500.09,479.05 L500.74,478.89 L501.44,478.72 L502.18,478.52 L503,478.3 L503.71,478.11 L504.48,477.89 L505.31,477.66 L506.17,477.41 L507.03,477.16 L507.89,476.91 L508.72,476.66 L509.49,476.42 L510.2,476.2 L511.01,475.94 L511.73,475.69 L512.39,475.44 L513.03,475.21 L513.65,474.97 L514.3,474.74 L515,474.5 L515.72,474.27 L516.42,474.07 L517.13,473.87 L517.86,473.65 L518.64,473.42 L519.48,473.14 L520.4,472.8 L521.05,472.54 L521.77,472.24 L522.54,471.92 L523.34,471.57 L524.15,471.21 L524.97,470.84 L525.78,470.49 L526.56,470.14 L527.3,469.83 L527.99,469.54 L528.6,469.3 L529.56,468.95 L530.37,468.68 L531.08,468.48 L531.72,468.31 L532.35,468.16 L533,468 L533.79,467.83 L534.54,467.7 L535.28,467.58 L536.02,467.46 L536.8,467.3 L537.48,467.15 L538.18,466.98 L538.89,466.81 L539.6,466.62 L540.31,466.42 L541,466.2 L541.69,465.96 L542.38,465.71 L543.06,465.44 L543.73,465.16 L544.38,464.88 L545,464.6 L545.7,464.28 L546.35,463.96 L546.98,463.64 L547.59,463.29 L548.2,462.9 L548.94,462.38 L549.66,461.84 L550.37,461.22 L551.1,460.5 L551.86,459.66 L552.64,458.73 L553.43,457.71 L554.2,456.6 L554.95,455.41 L555.7,454.12 L556.45,452.76 L557.2,451.3 L557.97,449.74 L558.74,448.09 L559.52,446.37 L560.3,444.6 L561.07,442.81 L561.85,440.99 L562.62,439.07 L563.4,437 L564.18,434.75 L564.96,432.34 L565.73,429.84 L566.5,427.3 L567.28,424.58 L568.06,421.71 L568.82,418.95 L569.5,416.6 L570.27,414.25 L570.94,412.45 L571.6,410.8 L572.28,409.19 L572.94,407.73 L573.6,406.4 L574.24,405.19 L574.88,404.1 L575.5,403.2 L576.09,402.47 L576.67,401.91 L577.3,401.6 L578,401.58 L578.75,401.81 L579.5,402.2 L580.24,402.71 L580.97,403.38 L581.7,404.3 L582.41,405.51 L583.11,406.97 L583.8,408.6 L584.47,410.41 L585.13,412.4 L585.8,414.5 L586.5,416.71 L587.2,419.03 L587.9,421.4 L588.57,423.81 L589.23,426.27 L589.9,428.8 L590.6,431.41 L591.3,434.08 L592,436.8 L592.67,439.57 L593.34,442.39 L594,445.2 L594.66,447.99 L595.33,450.76 L596,453.5 L596.7,456.21 L597.4,458.88 L598.1,461.5 L598.77,464.06 L599.43,466.57 L600.1,469 L600.8,471.4 L601.5,473.71 L602.2,475.8 L602.87,477.59 L603.53,479.14 L604.2,480.5 L604.89,481.66 L605.59,482.63 L606.3,483.5 L607.02,484.29 L607.76,484.99 L608.5,485.6 L609.23,486.12 L609.96,486.57 L610.8,487 L611.37,487.27 L611.99,487.55 L612.64,487.82 L613.31,488.07 L614,488.3 L614.68,488.5 L615.37,488.67 L616.08,488.82 L616.85,488.96 L617.7,489.1 L618.36,489.2 L619.05,489.29 L619.77,489.38 L620.53,489.47 L621.32,489.55 L622.14,489.63 L623,489.7 L623.66,489.75 L624.28,489.8 L624.89,489.84 L625.53,489.89 L626.21,489.93 L626.97,489.97 L627.84,490.01 L628.84,490.05 L630,490.1 L630.58,490.12 L631.19,490.14 L631.83,490.17 L632.49,490.19 L633.18,490.21 L633.9,490.23 L634.64,490.26 L635.4,490.28 L636.17,490.3 L636.97,490.33 L637.78,490.35 L638.6,490.37 L639.44,490.4 L640.29,490.42 L641.14,490.45 L642.01,490.48 L642.88,490.51 L643.75,490.54 L644.62,490.57 L645.5,490.6 L646.21,490.63 L646.92,490.65 L647.65,490.68 L648.39,490.71 L649.14,490.74 L649.9,490.77 L650.67,490.8 L651.44,490.83 L652.23,490.86 L653.01,490.89 L653.8,490.93 L654.6,490.96 L655.4,490.99 L656.2,491.02 L657.01,491.06 L657.81,491.09 L658.62,491.13 L659.43,491.16 L660.23,491.19 L661.04,491.23 L661.84,491.26 L662.63,491.3 L663.43,491.33 L664.22,491.37 L665,491.4 L665.79,491.43 L666.62,491.47 L667.46,491.51 L668.33,491.55 L669.21,491.59 L670.11,491.63 L671.01,491.67 L671.92,491.71 L672.83,491.75 L673.74,491.8 L674.64,491.84 L675.53,491.88 L676.41,491.92 L677.27,491.96 L678.1,492 L678.92,492.04 L679.7,492.08 L680.46,492.11 L681.17,492.14 L681.85,492.18 L682.48,492.21 L683.07,492.23 L683.6,492.26 L684.08,492.28 L684.5,492.3" fill="none" stroke="#1c1c1c" stroke-width="1" stroke-linejoin="round" stroke-linecap="round" />
</svg>
</body></html>
